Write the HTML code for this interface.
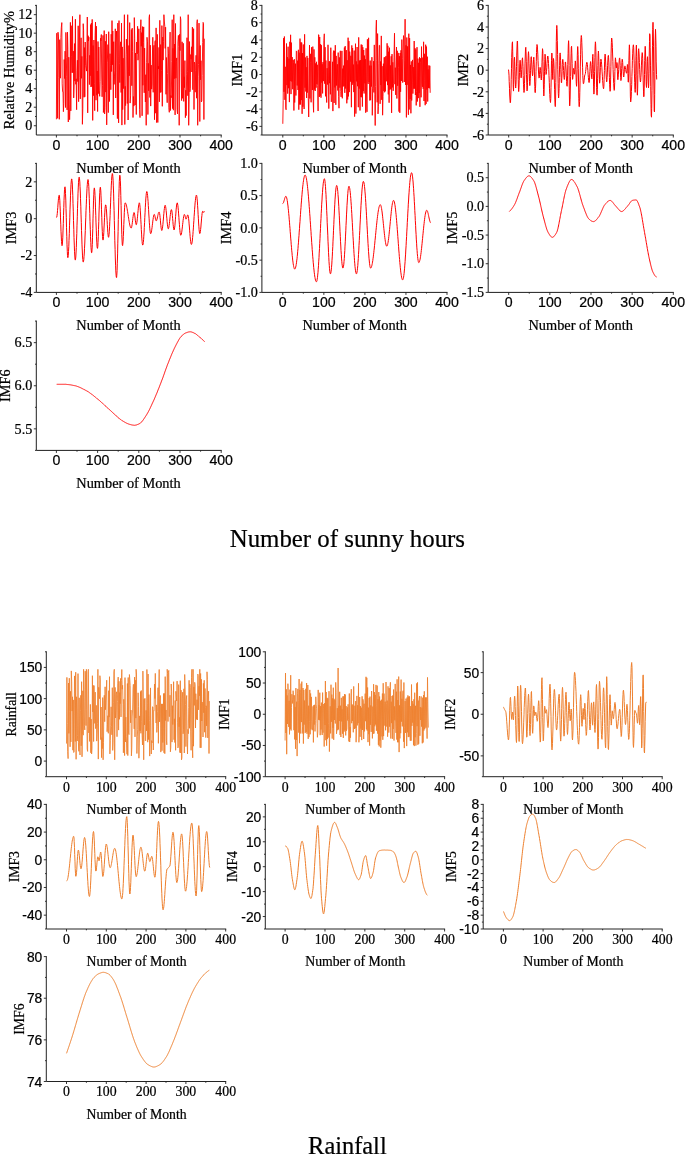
<!DOCTYPE html>
<html><head><meta charset="utf-8"><title>EMD decomposition</title>
<style>html,body{margin:0;padding:0;background:#fff}svg{display:block}text{fill:#000;stroke:#000;stroke-width:0.22px}</style>
</head><body>
<svg width="685" height="1155" viewBox="0 0 685 1155">
<rect width="685" height="1155" fill="#fff"/>
<polyline points="56.4,119.3 56.8,33.2 57.2,59.1 57.6,118.3 58.0,32.2 58.5,36.9 58.9,77.6 59.3,119.3 59.7,39.7 60.1,69.9 60.5,78.2 60.9,37.6 61.3,27.8 61.8,22.6 62.2,83.9 62.6,91.6 63.0,91.6 63.4,111.7 63.8,103.4 64.2,59.5 64.6,78.5 65.1,51.1 65.5,107.5 65.9,32.4 66.3,57.5 66.7,76.2 67.1,109.9 67.5,32.1 67.9,49.5 68.3,122.0 68.8,57.2 69.2,104.1 69.6,119.7 70.0,107.1 70.4,22.4 70.8,110.9 71.2,25.7 71.6,56.2 72.1,72.8 72.5,16.4 72.9,72.5 73.3,51.1 73.7,97.9 74.1,86.1 74.5,43.6 74.9,81.1 75.4,19.2 75.8,84.3 76.2,78.8 76.6,109.7 77.0,70.7 77.4,60.2 77.8,81.6 78.2,25.8 78.6,101.7 79.1,77.8 79.5,35.0 79.9,14.7 80.3,98.9 80.7,58.9 81.1,37.8 81.5,78.3 81.9,56.4 82.4,124.3 82.8,108.5 83.2,23.7 83.6,30.2 84.0,97.3 84.4,47.6 84.8,96.8 85.2,42.0 85.7,65.6 86.1,68.2 86.5,71.1 86.9,57.9 87.3,17.0 87.7,112.9 88.1,35.7 88.5,40.9 88.9,37.2 89.4,84.6 89.8,55.3 90.2,75.8 90.6,24.6 91.0,87.0 91.4,23.0 91.8,86.4 92.2,19.4 92.7,120.4 93.1,45.5 93.5,95.6 93.9,40.0 94.3,83.5 94.7,110.7 95.1,35.3 95.5,22.1 96.0,100.2 96.4,26.2 96.8,95.2 97.2,71.0 97.6,111.5 98.0,41.5 98.4,93.6 98.8,47.0 99.2,90.2 99.7,96.3 100.1,81.5 100.5,38.2 100.9,40.9 101.3,34.5 101.7,77.0 102.1,96.8 102.5,85.3 103.0,35.4 103.4,112.5 103.8,104.8 104.2,30.6 104.6,114.0 105.0,107.7 105.4,41.3 105.8,92.1 106.3,34.0 106.7,124.9 107.1,62.7 107.5,57.0 107.9,44.6 108.3,112.6 108.7,31.7 109.1,57.7 109.5,101.5 110.0,53.7 110.4,65.8 110.8,89.7 111.2,34.2 111.6,71.5 112.0,20.6 112.4,64.8 112.8,31.0 113.3,114.9 113.7,41.7 114.1,84.4 114.5,76.1 114.9,70.7 115.3,28.8 115.7,98.0 116.1,42.2 116.6,31.0 117.0,72.2 117.4,118.6 117.8,23.1 118.2,56.9 118.6,122.9 119.0,20.6 119.4,63.3 119.8,82.6 120.3,46.3 120.7,41.8 121.1,92.5 121.5,23.1 121.9,125.1 122.3,46.9 122.7,109.6 123.1,58.2 123.6,88.6 124.0,48.3 124.4,14.7 124.8,124.5 125.2,86.3 125.6,105.6 126.0,56.2 126.4,39.2 126.9,54.2 127.3,103.5 127.7,14.7 128.1,120.0 128.5,71.1 128.9,45.5 129.3,75.8 129.7,22.6 130.1,103.1 130.6,95.9 131.0,47.8 131.4,29.6 131.8,85.7 132.2,28.2 132.6,51.5 133.0,117.5 133.4,96.5 133.9,106.1 134.3,17.6 134.7,38.3 135.1,105.0 135.5,53.0 135.9,87.0 136.3,114.5 136.7,42.0 137.2,53.9 137.6,26.3 138.0,60.2 138.4,53.4 138.8,28.8 139.2,59.2 139.6,109.6 140.0,117.6 140.4,30.7 140.9,19.7 141.3,46.3 141.7,32.6 142.1,115.8 142.5,26.6 142.9,85.3 143.3,42.4 143.7,26.9 144.2,92.8 144.6,48.1 145.0,82.4 145.4,102.0 145.8,74.7 146.2,125.3 146.6,62.8 147.0,37.3 147.5,41.9 147.9,114.5 148.3,63.3 148.7,90.8 149.1,17.8 149.5,14.7 149.9,97.5 150.3,45.2 150.7,106.1 151.2,65.1 151.6,89.1 152.0,84.0 152.4,57.0 152.8,37.3 153.2,92.3 153.6,47.8 154.0,45.3 154.5,119.7 154.9,42.1 155.3,40.6 155.7,113.2 156.1,27.9 156.5,122.5 156.9,120.3 157.3,34.4 157.8,122.5 158.2,66.2 158.6,68.9 159.0,47.4 159.4,101.8 159.8,20.3 160.2,92.5 160.6,44.6 161.0,92.3 161.5,70.4 161.9,25.6 162.3,106.3 162.7,37.1 163.1,60.1 163.5,41.2 163.9,14.7 164.3,21.0 164.8,26.5 165.2,48.4 165.6,27.2 166.0,94.3 166.4,57.5 166.8,91.3 167.2,102.7 167.6,73.7 168.1,46.8 168.5,53.9 168.9,107.5 169.3,112.3 169.7,50.0 170.1,32.1 170.5,110.5 170.9,95.5 171.3,97.7 171.8,61.4 172.2,19.7 172.6,108.6 173.0,48.4 173.4,110.2 173.8,14.7 174.2,78.7 174.6,44.0 175.1,114.9 175.5,23.5 175.9,78.2 176.3,61.2 176.7,57.9 177.1,109.3 177.5,113.9 177.9,41.9 178.4,35.4 178.8,46.4 179.2,125.3 179.6,34.3 180.0,50.6 180.4,16.7 180.8,19.8 181.2,72.9 181.6,100.6 182.1,41.8 182.5,98.3 182.9,95.9 183.3,43.3 183.7,101.4 184.1,76.8 184.5,87.6 184.9,60.6 185.4,117.7 185.8,90.2 186.2,115.6 186.6,74.1 187.0,37.7 187.4,71.7 187.8,95.7 188.2,14.7 188.7,125.3 189.1,99.2 189.5,41.6 189.9,91.8 190.3,88.7 190.7,54.6 191.1,59.2 191.5,46.8 191.9,72.0 192.4,27.1 192.8,89.7 193.2,49.7 193.6,28.7 194.0,109.5 194.4,62.1 194.8,64.2 195.2,92.2 195.7,70.3 196.1,55.3 196.5,98.2 196.9,23.3 197.3,19.7 197.7,125.3 198.1,76.3 198.5,64.3 199.0,23.1 199.4,45.1 199.8,121.5 200.2,45.4 200.6,79.8 201.0,60.7 201.4,101.9 201.8,100.8 202.2,75.3 202.7,42.6 203.1,22.4 203.5,23.5 203.9,119.5 204.3,38.7" fill="none" stroke="#ff0000" stroke-width="0.9" stroke-linejoin="round"/>
<path d="M36.30 4.90V135.00H221.70" fill="none" stroke="#1e1e1e" stroke-width="1.0"/>
<path d="M36.30 125.74h-2.5M36.30 107.23h-2.5M36.30 88.71h-2.5M36.30 70.20h-2.5M36.30 51.69h-2.5M36.30 33.17h-2.5M36.30 14.66h-2.5M36.30 116.49h-1.3M36.30 97.97h-1.3M36.30 79.46h-1.3M36.30 60.94h-1.3M36.30 42.43h-1.3M36.30 23.91h-1.3M36.30 5.40h-1.3M56.40 135.00v2.5M97.60 135.00v2.5M138.80 135.00v2.5M180.00 135.00v2.5M221.20 135.00v2.5M77.00 135.00v1.3M118.20 135.00v1.3M159.40 135.00v1.3M200.60 135.00v1.3" fill="none" stroke="#1e1e1e" stroke-width="0.9"/>
<text x="32.30" y="130.44" text-anchor="end" font-family="'Liberation Serif','Times New Roman',serif" font-size="14.15">0</text>
<text x="32.30" y="111.93" text-anchor="end" font-family="'Liberation Serif','Times New Roman',serif" font-size="14.15">2</text>
<text x="32.30" y="93.41" text-anchor="end" font-family="'Liberation Serif','Times New Roman',serif" font-size="14.15">4</text>
<text x="32.30" y="74.90" text-anchor="end" font-family="'Liberation Serif','Times New Roman',serif" font-size="14.15">6</text>
<text x="32.30" y="56.39" text-anchor="end" font-family="'Liberation Serif','Times New Roman',serif" font-size="14.15">8</text>
<text x="32.30" y="37.87" text-anchor="end" font-family="'Liberation Serif','Times New Roman',serif" font-size="14.15">10</text>
<text x="32.30" y="19.36" text-anchor="end" font-family="'Liberation Serif','Times New Roman',serif" font-size="14.15">12</text>
<text x="56.40" y="149.90" text-anchor="middle" font-family="'Liberation Sans',Arial,sans-serif" font-size="14.15">0</text>
<text x="97.60" y="149.90" text-anchor="middle" font-family="'Liberation Sans',Arial,sans-serif" font-size="14.15">100</text>
<text x="138.80" y="149.90" text-anchor="middle" font-family="'Liberation Sans',Arial,sans-serif" font-size="14.15">200</text>
<text x="180.00" y="149.90" text-anchor="middle" font-family="'Liberation Sans',Arial,sans-serif" font-size="14.15">300</text>
<text x="221.20" y="149.90" text-anchor="middle" font-family="'Liberation Sans',Arial,sans-serif" font-size="14.15">400</text>
<text x="128.50" y="172.50" text-anchor="middle" font-family="'Liberation Serif','Times New Roman',serif" font-size="14.35">Number of Month</text>
<text transform="translate(13.90 70.20) rotate(-90)" text-anchor="middle" font-family="'Liberation Serif','Times New Roman',serif" font-size="14.35">Relative Humidity%</text>
<polyline points="282.8,123.8 283.2,100.4 283.6,38.2 284.0,91.8 284.4,36.5 284.9,99.8 285.3,66.8 285.7,107.9 286.1,109.8 286.5,43.5 286.9,85.1 287.3,57.1 287.7,93.6 288.1,46.7 288.5,88.2 289.0,58.7 289.4,102.1 289.8,41.8 290.2,81.1 290.6,34.8 291.0,94.1 291.4,42.6 291.8,81.5 292.2,57.1 292.7,89.2 293.1,60.0 293.5,62.5 293.9,110.5 294.3,59.2 294.7,102.5 295.1,81.4 295.5,63.7 295.9,95.5 296.3,50.9 296.8,51.6 297.2,85.5 297.6,60.7 298.0,90.0 298.4,49.8 298.8,109.7 299.2,52.7 299.6,104.5 300.0,38.6 300.5,104.5 300.9,42.3 301.3,100.1 301.7,42.6 302.1,113.8 302.5,53.1 302.9,106.7 303.3,44.5 303.7,82.0 304.1,109.0 304.6,34.3 305.0,87.7 305.4,57.5 305.8,91.5 306.2,67.2 306.6,98.0 307.0,55.9 307.4,92.6 307.8,58.0 308.3,98.5 308.7,117.0 309.1,88.0 309.5,45.1 309.9,98.5 310.3,62.5 310.7,53.8 311.1,102.3 311.5,47.3 311.9,62.6 312.4,90.0 312.8,46.6 313.2,101.7 313.6,112.3 314.0,49.4 314.4,89.6 314.8,57.3 315.2,91.0 315.6,63.4 316.1,87.7 316.5,61.8 316.9,84.1 317.3,64.8 317.7,85.4 318.1,111.0 318.5,34.7 318.9,34.9 319.3,97.0 319.7,37.0 320.2,95.8 320.6,44.1 321.0,97.7 321.4,45.2 321.8,82.6 322.2,64.3 322.6,93.4 323.0,62.1 323.4,81.1 323.9,40.3 324.3,33.8 324.7,83.7 325.1,47.2 325.5,96.3 325.9,60.5 326.3,93.1 326.7,102.5 327.1,68.2 327.5,84.5 328.0,44.8 328.4,66.9 328.8,108.6 329.2,61.2 329.6,83.2 330.0,61.5 330.4,94.3 330.8,47.7 331.2,101.9 331.6,101.4 332.1,91.7 332.5,61.8 332.9,111.1 333.3,53.1 333.7,50.6 334.1,103.0 334.5,50.9 334.9,87.4 335.3,45.2 335.8,104.8 336.2,55.9 336.6,85.5 337.0,68.5 337.4,64.3 337.8,90.5 338.2,52.6 338.6,96.7 339.0,108.2 339.4,57.4 339.9,87.7 340.3,50.8 340.7,91.4 341.1,96.9 341.5,90.8 341.9,50.9 342.3,98.3 342.7,68.6 343.1,86.6 343.6,65.6 344.0,85.9 344.4,47.5 344.8,92.8 345.2,46.1 345.6,88.5 346.0,51.9 346.4,50.2 346.8,103.3 347.2,60.2 347.7,99.5 348.1,37.7 348.5,96.4 348.9,41.1 349.3,92.1 349.7,51.6 350.1,58.5 350.5,81.6 350.9,55.8 351.4,107.2 351.8,45.4 352.2,84.8 352.6,48.0 353.0,82.7 353.4,64.6 353.8,92.1 354.2,50.6 354.6,116.6 355.0,81.6 355.5,43.7 355.9,113.6 356.3,61.4 356.7,81.4 357.1,47.0 357.5,86.2 357.9,64.4 358.3,107.2 358.7,37.4 359.2,88.6 359.6,60.6 360.0,110.5 360.4,60.1 360.8,97.1 361.2,44.5 361.6,97.2 362.0,44.9 362.4,106.6 362.8,47.2 363.3,91.1 363.7,50.0 364.1,93.5 364.5,55.6 364.9,83.3 365.3,59.2 365.7,112.7 366.1,48.3 366.5,91.0 367.0,111.8 367.4,39.3 367.8,81.8 368.2,83.9 368.6,37.8 369.0,82.0 369.4,65.6 369.8,100.5 370.2,60.6 370.6,100.1 371.1,65.7 371.5,86.5 371.9,57.2 372.3,115.3 372.7,88.3 373.1,86.1 373.5,61.2 373.9,92.4 374.3,44.9 374.8,94.8 375.2,125.5 375.6,86.8 376.0,29.9 376.4,20.1 376.8,60.5 377.2,102.3 377.6,33.6 378.0,113.9 378.4,106.4 378.9,63.8 379.3,45.3 379.7,45.4 380.1,103.8 380.5,61.5 380.9,85.0 381.3,35.9 381.7,99.8 382.1,66.2 382.6,115.2 383.0,96.5 383.4,63.7 383.8,91.1 384.2,57.4 384.6,92.3 385.0,57.2 385.4,91.3 385.8,56.2 386.2,56.1 386.7,81.3 387.1,43.3 387.5,85.1 387.9,45.8 388.3,94.4 388.7,51.7 389.1,102.7 389.5,47.7 389.9,89.8 390.4,65.4 390.8,88.9 391.2,56.3 391.6,112.9 392.0,54.1 392.4,87.4 392.8,62.3 393.2,90.8 393.6,83.3 394.0,57.8 394.5,33.2 394.9,84.2 395.3,67.7 395.7,94.9 396.1,63.0 396.5,47.0 396.9,98.5 397.3,50.8 397.7,85.8 398.2,52.9 398.6,67.2 399.0,111.6 399.4,56.2 399.8,112.8 400.2,53.0 400.6,91.8 401.0,50.3 401.4,81.0 401.8,39.6 402.3,58.3 402.7,82.6 403.1,52.0 403.5,35.6 403.9,38.1 404.3,82.0 404.7,60.1 405.1,19.2 405.5,84.9 406.0,45.3 406.4,117.4 406.8,37.5 407.2,84.8 407.6,46.4 408.0,88.0 408.4,114.8 408.8,33.7 409.2,109.5 409.6,38.1 410.1,99.0 410.5,64.9 410.9,113.3 411.3,61.4 411.7,100.5 412.1,82.2 412.5,59.9 412.9,93.6 413.3,67.1 413.7,88.7 414.2,41.0 414.6,88.6 415.0,48.2 415.4,95.0 415.8,49.5 416.2,105.4 416.6,91.5 417.0,47.2 417.4,101.5 417.9,58.6 418.3,98.1 418.7,62.8 419.1,93.0 419.5,57.3 419.9,106.8 420.3,58.2 420.7,62.5 421.1,97.3 421.5,46.6 422.0,83.0 422.4,86.8 422.8,57.6 423.2,88.8 423.6,41.8 424.0,101.0 424.4,53.8 424.8,80.4 425.2,105.2 425.7,44.7 426.1,103.9 426.5,46.6 426.9,89.6 427.3,56.7 427.7,101.5 428.1,69.4 428.5,87.9 428.9,65.4 429.3,88.3 429.8,65.8 430.2,92.8" fill="none" stroke="#ff0000" stroke-width="0.9" stroke-linejoin="round"/>
<path d="M261.90 4.90V135.00H447.50" fill="none" stroke="#1e1e1e" stroke-width="1.0"/>
<path d="M261.90 126.36h-2.5M261.90 109.08h-2.5M261.90 91.80h-2.5M261.90 74.52h-2.5M261.90 57.24h-2.5M261.90 39.96h-2.5M261.90 22.68h-2.5M261.90 5.40h-2.5M261.90 135.00h-1.3M261.90 117.72h-1.3M261.90 100.44h-1.3M261.90 83.16h-1.3M261.90 65.88h-1.3M261.90 48.60h-1.3M261.90 31.32h-1.3M261.90 14.04h-1.3M282.80 135.00v2.5M323.85 135.00v2.5M364.90 135.00v2.5M405.95 135.00v2.5M447.00 135.00v2.5M303.32 135.00v1.3M344.38 135.00v1.3M385.43 135.00v1.3M426.48 135.00v1.3" fill="none" stroke="#1e1e1e" stroke-width="0.9"/>
<text x="257.90" y="131.06" text-anchor="end" font-family="'Liberation Serif','Times New Roman',serif" font-size="14.15">-6</text>
<text x="257.90" y="113.78" text-anchor="end" font-family="'Liberation Serif','Times New Roman',serif" font-size="14.15">-4</text>
<text x="257.90" y="96.50" text-anchor="end" font-family="'Liberation Serif','Times New Roman',serif" font-size="14.15">-2</text>
<text x="257.90" y="79.22" text-anchor="end" font-family="'Liberation Serif','Times New Roman',serif" font-size="14.15">0</text>
<text x="257.90" y="61.94" text-anchor="end" font-family="'Liberation Serif','Times New Roman',serif" font-size="14.15">2</text>
<text x="257.90" y="44.66" text-anchor="end" font-family="'Liberation Serif','Times New Roman',serif" font-size="14.15">4</text>
<text x="257.90" y="27.38" text-anchor="end" font-family="'Liberation Serif','Times New Roman',serif" font-size="14.15">6</text>
<text x="257.90" y="10.10" text-anchor="end" font-family="'Liberation Serif','Times New Roman',serif" font-size="14.15">8</text>
<text x="282.80" y="149.90" text-anchor="middle" font-family="'Liberation Sans',Arial,sans-serif" font-size="14.15">0</text>
<text x="323.85" y="149.90" text-anchor="middle" font-family="'Liberation Sans',Arial,sans-serif" font-size="14.15">100</text>
<text x="364.90" y="149.90" text-anchor="middle" font-family="'Liberation Sans',Arial,sans-serif" font-size="14.15">200</text>
<text x="405.95" y="149.90" text-anchor="middle" font-family="'Liberation Sans',Arial,sans-serif" font-size="14.15">300</text>
<text x="447.00" y="149.90" text-anchor="middle" font-family="'Liberation Sans',Arial,sans-serif" font-size="14.15">400</text>
<text x="354.64" y="172.50" text-anchor="middle" font-family="'Liberation Serif','Times New Roman',serif" font-size="14.35">Number of Month</text>
<text transform="translate(242.00 70.20) rotate(-90)" text-anchor="middle" font-family="'Liberation Serif','Times New Roman',serif" font-size="14.35">IMF1</text>
<polyline points="508.5,69.6 508.7,71.1 509.0,75.2 509.2,81.4 509.5,88.4 509.7,95.0 510.0,100.1 510.2,102.8 510.5,102.4 510.7,98.0 511.0,90.1 511.2,79.7 511.5,68.3 511.7,57.5 512.0,48.8 512.2,43.2 512.5,41.8 512.7,51.2 513.0,69.7 513.2,86.2 513.5,91.1 513.7,84.4 514.0,71.6 514.2,60.4 514.5,57.3 514.7,61.6 515.0,70.1 515.2,79.7 515.5,86.5 515.7,88.0 516.0,84.4 516.2,76.8 516.5,66.6 516.7,55.9 517.0,47.0 517.2,41.6 517.5,41.0 517.7,49.0 518.0,63.7 518.2,79.3 518.5,89.9 518.7,91.6 519.0,87.9 519.2,80.9 519.5,72.5 519.7,65.0 520.0,60.4 520.2,60.2 520.5,65.0 520.7,72.2 521.0,77.4 521.2,77.9 521.5,74.9 521.7,69.6 522.0,63.9 522.2,59.4 522.5,57.8 522.7,60.2 523.0,66.7 523.2,75.5 523.5,84.2 523.8,90.5 524.0,92.5 524.3,90.0 524.5,83.4 524.8,74.1 525.0,63.9 525.3,55.0 525.5,49.0 525.8,47.3 526.0,51.7 526.3,61.8 526.5,74.3 526.8,85.2 527.0,90.9 527.3,89.8 527.5,82.8 527.8,72.1 528.0,61.2 528.3,53.6 528.5,51.7 528.8,55.7 529.0,63.8 529.3,73.5 529.5,81.6 529.8,85.6 530.0,84.3 530.3,78.8 530.5,70.8 530.8,62.9 531.0,57.7 531.3,56.7 531.5,59.2 531.8,64.0 532.0,69.4 532.3,73.8 532.5,75.8 532.8,74.4 533.0,70.0 533.3,64.2 533.5,59.3 533.8,57.2 534.0,59.6 534.3,67.1 534.5,77.1 534.8,86.6 535.0,92.3 535.3,92.7 535.5,88.7 535.8,81.1 536.0,71.5 536.3,61.3 536.5,52.5 536.8,46.5 537.0,44.5 537.3,45.8 537.5,49.1 537.8,54.2 538.0,60.3 538.3,66.5 538.5,72.0 538.8,76.1 539.0,78.1 539.3,77.7 539.5,74.3 539.8,70.0 540.0,67.3 540.3,67.6 540.5,70.3 540.8,74.3 541.0,78.0 541.3,80.0 541.5,78.7 541.8,71.9 542.0,62.2 542.3,53.3 542.5,48.7 542.8,51.0 543.0,61.5 543.3,76.2 543.5,89.4 543.8,96.0 544.0,93.8 544.3,84.2 544.5,71.2 544.8,59.7 545.0,54.2 545.3,56.2 545.5,63.0 545.8,70.6 546.0,74.5 546.3,73.9 546.5,71.5 546.8,67.8 547.0,63.6 547.3,59.8 547.5,57.0 547.8,56.0 548.0,56.8 548.3,59.4 548.5,63.7 548.8,69.3 549.0,75.7 549.3,82.4 549.5,88.8 549.8,94.4 550.0,98.8 550.3,101.6 550.5,102.5 550.8,98.3 551.0,87.3 551.3,73.1 551.5,60.3 551.8,53.0 552.0,54.0 552.3,63.8 552.5,75.2 552.8,79.5 553.0,73.2 553.3,62.6 553.5,58.5 553.8,61.5 554.1,68.8 554.3,78.9 554.6,89.7 554.8,99.1 555.1,105.2 555.3,106.6 555.6,99.0 555.8,82.4 556.1,61.4 556.3,41.5 556.6,28.4 556.8,25.4 557.1,30.1 557.3,40.4 557.6,54.4 557.8,69.7 558.1,83.6 558.3,93.6 558.6,98.0 558.8,96.1 559.1,88.5 559.3,77.4 559.6,65.8 559.8,56.8 560.1,52.9 560.3,54.7 560.6,60.8 560.8,69.3 561.1,77.3 561.3,82.4 561.6,82.8 561.8,78.7 562.1,71.6 562.3,64.4 562.6,59.8 562.8,59.3 563.1,61.5 563.3,65.6 563.6,70.5 563.8,75.1 564.1,78.4 564.3,79.5 564.6,77.3 564.8,71.9 565.1,65.8 565.3,62.0 565.6,62.0 565.8,64.9 566.1,70.0 566.3,76.0 566.6,81.5 566.8,85.2 567.1,86.3 567.3,83.0 567.6,75.2 567.8,64.6 568.1,53.7 568.3,45.1 568.6,40.7 568.8,45.0 569.1,65.6 569.3,90.9 569.6,105.9 569.8,105.5 570.1,99.2 570.3,89.0 570.6,76.5 570.8,64.0 571.1,53.7 571.3,47.4 571.6,46.3 571.8,52.3 572.1,63.3 572.3,74.0 572.6,79.4 572.8,78.4 573.1,74.7 573.3,70.5 573.6,68.4 573.8,69.2 574.1,71.8 574.3,74.1 574.6,74.2 574.8,69.9 575.1,64.0 575.3,60.9 575.6,63.0 575.8,69.2 576.1,77.1 576.3,83.7 576.6,86.3 576.8,81.8 577.1,69.7 577.3,55.8 577.6,46.7 577.8,46.5 578.1,54.6 578.3,68.8 578.6,85.0 578.8,98.8 579.1,106.6 579.3,106.7 579.6,101.6 579.8,92.3 580.1,80.2 580.3,66.9 580.6,54.2 580.8,43.9 581.1,37.4 581.3,35.5 581.6,37.6 581.8,42.7 582.1,50.2 582.3,58.9 582.6,67.8 582.8,75.5 583.1,81.1 583.3,83.7 583.6,83.6 583.9,82.3 584.1,80.2 584.4,77.9 584.6,76.0 584.9,74.8 585.1,74.5 585.4,73.5 585.6,71.6 585.9,69.2 586.1,66.6 586.4,64.3 586.6,62.7 586.9,62.2 587.1,62.8 587.4,64.5 587.6,67.3 587.9,70.7 588.1,74.2 588.4,77.6 588.6,80.3 588.9,82.1 589.1,82.6 589.4,81.0 589.6,77.0 589.9,71.6 590.1,66.4 590.4,62.7 590.6,61.6 590.9,63.6 591.1,68.2 591.4,73.6 591.6,77.7 591.9,78.8 592.1,74.0 592.4,64.8 592.6,56.5 592.9,54.3 593.1,60.8 593.4,73.7 593.6,86.9 593.9,94.1 594.1,92.5 594.4,84.1 594.6,71.4 594.9,57.7 595.1,46.9 595.4,41.8 595.6,43.6 595.9,51.3 596.1,63.0 596.4,76.0 596.6,87.3 596.9,94.3 597.1,95.2 597.4,89.3 597.6,78.2 597.9,65.5 598.1,55.4 598.4,51.0 598.6,53.5 598.9,61.3 599.1,71.3 599.4,79.7 599.6,83.2 599.9,81.2 600.1,75.2 600.4,67.7 600.6,61.5 600.9,59.1 601.1,59.6 601.4,61.4 601.6,64.2 601.9,67.8 602.1,71.9 602.4,76.2 602.6,80.3 602.9,83.9 603.1,86.6 603.4,88.3 603.6,88.8 603.9,86.1 604.1,79.3 604.4,70.5 604.6,61.9 604.9,55.9 605.1,54.1 605.4,56.2 605.6,61.0 605.9,67.5 606.1,74.1 606.4,79.3 606.6,81.9 606.9,81.2 607.1,77.7 607.4,72.1 607.6,65.6 607.9,59.9 608.1,56.2 608.4,55.4 608.6,57.8 608.9,62.9 609.1,69.8 609.4,77.4 609.6,84.2 609.9,89.1 610.1,91.3 610.4,88.9 610.6,79.9 610.9,66.8 611.1,53.1 611.4,42.5 611.6,38.0 611.9,38.9 612.1,42.1 612.4,47.3 612.6,54.0 612.9,61.7 613.1,69.6 613.4,77.1 613.7,83.4 613.9,87.9 614.2,90.4 614.4,89.8 614.7,82.7 614.9,71.5 615.2,61.7 615.4,57.8 615.7,59.9 615.9,64.4 616.2,67.9 616.4,67.9 616.7,65.1 616.9,62.5 617.2,63.7 617.4,71.9 617.7,79.3 617.9,79.8 618.2,77.7 618.4,74.1 618.7,69.6 618.9,64.9 619.2,61.0 619.4,58.5 619.7,57.9 619.9,60.3 620.2,65.6 620.4,72.1 620.7,77.7 620.9,80.6 621.2,79.7 621.4,75.0 621.7,68.3 621.9,62.3 622.2,59.2 622.4,59.8 622.7,62.6 622.9,67.0 623.2,71.7 623.4,75.3 623.7,77.0 623.9,76.2 624.2,73.1 624.4,69.2 624.7,66.5 624.9,65.9 625.2,66.5 625.4,67.8 625.7,69.4 625.9,71.0 626.2,72.4 626.4,73.2 626.7,73.1 626.9,70.7 627.2,67.1 627.4,64.5 627.7,65.1 627.9,73.2 628.2,81.8 628.4,82.2 628.7,73.8 628.9,60.7 629.2,49.2 629.4,44.8 629.7,50.5 629.9,65.1 630.2,82.8 630.4,96.9 630.7,101.9 630.9,100.5 631.2,97.0 631.4,91.5 631.7,84.5 631.9,76.5 632.2,68.3 632.4,60.6 632.7,53.8 632.9,48.7 633.2,45.6 633.4,44.8 633.7,47.6 633.9,54.0 634.2,63.1 634.4,73.1 634.7,82.3 634.9,89.2 635.2,92.4 635.4,89.5 635.7,76.9 635.9,60.3 636.2,47.7 636.4,45.1 636.7,56.3 636.9,75.8 637.2,91.8 637.4,95.2 637.7,88.1 637.9,74.7 638.2,60.3 638.4,50.5 638.7,48.7 638.9,51.1 639.2,56.1 639.4,62.6 639.7,69.7 639.9,75.9 640.2,80.3 640.4,82.0 640.7,80.9 640.9,77.4 641.2,72.1 641.4,65.9 641.7,59.9 641.9,55.2 642.2,52.6 642.4,53.0 642.7,58.8 642.9,69.0 643.2,80.9 643.5,91.1 643.7,96.8 644.0,96.3 644.2,88.1 644.5,74.7 644.7,60.4 645.0,49.8 645.2,46.3 645.5,51.0 645.7,61.8 646.0,74.7 646.2,84.5 646.5,87.5 646.7,81.8 647.0,70.3 647.2,59.9 647.5,56.7 647.7,61.6 648.0,71.7 648.2,82.1 648.5,87.9 648.7,85.5 649.0,73.7 649.2,56.9 649.5,41.5 649.7,33.7 650.0,36.1 650.2,47.8 650.5,65.9 650.7,86.3 651.0,104.2 651.2,115.4 651.5,117.2 651.7,108.4 652.0,90.6 652.2,68.0 652.5,45.8 652.7,29.3 653.0,22.3 653.2,27.8 653.5,46.2 653.7,71.6 654.0,95.9 654.2,111.1 654.5,111.9 654.7,94.4 655.0,66.0 655.2,40.2 655.5,29.3 655.7,33.7 656.0,46.2 656.2,61.9 656.5,74.6 656.7,79.5" fill="none" stroke="#ff0000" stroke-width="1.0" stroke-linejoin="round"/>
<path d="M488.20 4.90V135.00H673.80" fill="none" stroke="#1e1e1e" stroke-width="1.0"/>
<path d="M488.20 135.00h-2.5M488.20 113.40h-2.5M488.20 91.80h-2.5M488.20 70.20h-2.5M488.20 48.60h-2.5M488.20 27.00h-2.5M488.20 5.40h-2.5M488.20 124.20h-1.3M488.20 102.60h-1.3M488.20 81.00h-1.3M488.20 59.40h-1.3M488.20 37.80h-1.3M488.20 16.20h-1.3M508.70 135.00v2.5M549.85 135.00v2.5M591.00 135.00v2.5M632.15 135.00v2.5M673.30 135.00v2.5M529.27 135.00v1.3M570.42 135.00v1.3M611.57 135.00v1.3M652.72 135.00v1.3" fill="none" stroke="#1e1e1e" stroke-width="0.9"/>
<text x="484.20" y="139.70" text-anchor="end" font-family="'Liberation Serif','Times New Roman',serif" font-size="14.15">-6</text>
<text x="484.20" y="118.10" text-anchor="end" font-family="'Liberation Serif','Times New Roman',serif" font-size="14.15">-4</text>
<text x="484.20" y="96.50" text-anchor="end" font-family="'Liberation Serif','Times New Roman',serif" font-size="14.15">-2</text>
<text x="484.20" y="74.90" text-anchor="end" font-family="'Liberation Serif','Times New Roman',serif" font-size="14.15">0</text>
<text x="484.20" y="53.30" text-anchor="end" font-family="'Liberation Serif','Times New Roman',serif" font-size="14.15">2</text>
<text x="484.20" y="31.70" text-anchor="end" font-family="'Liberation Serif','Times New Roman',serif" font-size="14.15">4</text>
<text x="484.20" y="10.10" text-anchor="end" font-family="'Liberation Serif','Times New Roman',serif" font-size="14.15">6</text>
<text x="508.70" y="149.90" text-anchor="middle" font-family="'Liberation Sans',Arial,sans-serif" font-size="14.15">0</text>
<text x="549.85" y="149.90" text-anchor="middle" font-family="'Liberation Sans',Arial,sans-serif" font-size="14.15">100</text>
<text x="591.00" y="149.90" text-anchor="middle" font-family="'Liberation Sans',Arial,sans-serif" font-size="14.15">200</text>
<text x="632.15" y="149.90" text-anchor="middle" font-family="'Liberation Sans',Arial,sans-serif" font-size="14.15">300</text>
<text x="673.30" y="149.90" text-anchor="middle" font-family="'Liberation Sans',Arial,sans-serif" font-size="14.15">400</text>
<text x="580.71" y="172.50" text-anchor="middle" font-family="'Liberation Serif','Times New Roman',serif" font-size="14.35">Number of Month</text>
<text transform="translate(467.70 70.20) rotate(-90)" text-anchor="middle" font-family="'Liberation Serif','Times New Roman',serif" font-size="14.35">IMF2</text>
<polyline points="56.5,217.5 56.8,217.0 57.0,215.6 57.3,213.4 57.5,210.5 57.8,207.3 58.0,204.0 58.3,200.9 58.5,198.3 58.8,196.3 59.0,195.3 59.3,195.3 59.5,197.0 59.8,200.4 60.0,205.2 60.3,211.2 60.5,217.9 60.8,224.8 61.0,231.3 61.3,237.0 61.5,241.5 61.8,244.5 62.0,245.7 62.3,244.9 62.5,242.0 62.8,237.2 63.0,230.9 63.3,223.5 63.5,215.5 63.8,207.6 64.0,200.3 64.3,194.2 64.5,189.7 64.8,187.2 65.0,186.8 65.3,188.9 65.5,193.5 65.8,200.1 66.0,208.4 66.3,217.7 66.5,227.3 66.8,236.6 67.0,244.8 67.3,251.3 67.5,255.7 67.8,257.7 68.0,257.3 68.3,255.2 68.5,251.7 68.8,246.7 69.0,240.5 69.3,233.5 69.5,225.8 69.8,217.8 70.0,209.8 70.3,202.1 70.5,195.2 70.8,189.1 71.0,184.3 71.3,180.9 71.5,179.1 71.8,178.9 72.0,180.5 72.3,184.0 72.5,189.1 72.8,195.7 73.0,203.4 73.3,211.8 73.5,220.6 73.8,229.4 74.0,237.7 74.3,245.1 74.5,251.3 74.8,256.0 75.0,259.0 75.3,260.1 75.5,259.4 75.8,257.0 76.0,253.0 76.3,247.6 76.5,240.9 76.8,233.4 77.0,225.2 77.3,216.8 77.5,208.4 77.8,200.4 78.0,193.2 78.3,187.1 78.5,182.3 78.8,178.9 79.0,177.2 79.3,177.3 79.5,178.8 79.8,181.9 80.0,186.4 80.3,192.0 80.5,198.7 80.8,206.2 81.0,214.1 81.3,222.3 81.5,230.3 81.8,238.0 82.0,244.9 82.3,251.0 82.5,255.9 82.8,259.4 83.0,261.5 83.3,262.1 83.5,261.3 83.8,259.6 84.0,256.7 84.3,253.0 84.5,248.3 84.8,243.0 85.0,237.0 85.3,230.6 85.5,224.0 85.8,217.2 86.0,210.6 86.3,204.2 86.5,198.3 86.8,193.0 87.0,188.4 87.3,184.6 87.5,181.9 87.8,180.1 88.0,179.5 88.3,180.2 88.5,182.5 88.8,186.5 89.0,191.9 89.3,198.4 89.5,205.8 89.8,213.6 90.0,221.6 90.3,229.3 90.5,236.4 90.8,242.6 91.0,247.5 91.3,250.9 91.5,252.7 91.8,252.6 92.0,249.9 92.3,244.6 92.5,237.2 92.8,228.4 93.0,218.8 93.3,209.4 93.5,200.9 93.8,194.2 94.0,189.7 94.3,187.9 94.5,188.6 94.8,191.2 95.0,195.4 95.3,201.1 95.5,207.9 95.8,215.3 96.0,222.9 96.3,230.2 96.5,236.8 96.8,242.1 97.0,246.0 97.3,248.2 97.5,248.4 97.8,246.5 98.0,242.5 98.3,236.6 98.5,229.4 98.8,221.4 99.0,213.0 99.3,205.1 99.5,198.0 99.8,192.5 100.0,188.8 100.3,187.2 100.5,187.9 100.8,190.9 101.0,195.8 101.3,202.3 101.5,209.8 101.8,217.7 102.0,225.1 102.3,231.6 102.5,236.5 102.8,239.4 103.0,240.1 103.3,239.0 103.5,236.5 103.8,232.7 104.0,228.0 104.3,222.9 104.5,217.7 104.8,212.9 105.0,208.9 105.3,206.2 105.5,204.9 105.8,205.0 106.1,206.3 106.3,208.7 106.6,212.0 106.8,216.0 107.1,220.4 107.3,224.7 107.6,228.9 107.8,232.4 108.1,235.1 108.3,236.8 108.6,237.3 108.8,236.5 109.1,234.4 109.3,231.2 109.6,226.8 109.8,221.6 110.1,215.7 110.3,209.4 110.6,202.9 110.8,196.5 111.1,190.5 111.3,185.1 111.6,180.5 111.8,176.9 112.1,174.6 112.3,173.5 112.6,173.9 112.8,176.1 113.1,180.2 113.3,185.9 113.6,193.1 113.8,201.5 114.1,210.7 114.3,220.5 114.6,230.5 114.8,240.3 115.1,249.6 115.3,258.0 115.6,265.2 115.8,270.9 116.1,275.0 116.3,277.3 116.6,277.6 116.8,275.3 117.1,270.5 117.3,263.2 117.6,253.9 117.8,243.2 118.1,231.5 118.3,219.6 118.6,208.0 118.8,197.5 119.1,188.5 119.3,181.5 119.6,177.0 119.8,175.2 120.1,176.2 120.3,180.2 120.6,186.9 120.8,195.6 121.1,205.6 121.3,216.0 121.6,226.0 121.8,234.6 122.1,241.0 122.3,244.8 122.6,245.6 122.8,244.2 123.1,241.1 123.3,236.5 123.6,230.8 123.8,224.6 124.1,218.3 124.3,212.5 124.6,207.8 124.8,204.5 125.1,202.9 125.3,202.9 125.6,203.1 125.8,203.6 126.1,204.2 126.3,205.1 126.6,206.1 126.8,207.3 127.1,208.6 127.3,210.1 127.6,211.6 127.8,213.2 128.1,214.8 128.3,216.5 128.6,218.1 128.8,219.7 129.1,221.2 129.3,222.6 129.6,223.9 129.8,225.1 130.1,226.1 130.3,226.9 130.6,227.5 130.8,227.9 131.1,228.1 131.3,228.0 131.6,227.4 131.8,226.2 132.1,224.7 132.3,222.8 132.6,220.7 132.8,218.6 133.1,216.6 133.3,214.9 133.6,213.5 133.8,212.7 134.1,212.5 134.3,212.9 134.6,214.1 134.8,215.8 135.1,218.0 135.3,220.2 135.6,222.2 135.8,223.7 136.1,224.6 136.3,224.7 136.6,224.1 136.8,222.8 137.1,221.0 137.3,218.8 137.6,216.2 137.8,213.4 138.1,210.7 138.3,208.2 138.6,206.0 138.8,204.4 139.1,203.3 139.3,202.8 139.6,203.2 139.8,204.8 140.1,207.4 140.3,210.9 140.6,215.0 140.8,219.7 141.1,224.6 141.3,229.5 141.6,234.1 141.8,238.1 142.1,241.4 142.3,243.7 142.6,245.0 142.8,245.1 143.1,244.3 143.3,242.4 143.6,239.7 143.8,236.2 144.1,232.1 144.3,227.4 144.6,222.4 144.8,217.3 145.1,212.2 145.3,207.3 145.6,202.8 145.8,198.9 146.1,195.8 146.3,193.4 146.6,192.0 146.8,191.5 147.1,192.0 147.3,193.3 147.6,195.4 147.8,198.2 148.1,201.6 148.3,205.5 148.6,209.7 148.8,214.0 149.1,218.2 149.3,222.2 149.6,225.8 149.8,228.8 150.1,231.2 150.3,232.8 150.6,233.6 150.8,233.6 151.1,233.1 151.3,232.1 151.6,230.8 151.8,229.2 152.1,227.3 152.3,225.3 152.6,223.2 152.8,221.1 153.1,219.2 153.3,217.5 153.6,216.1 153.8,215.1 154.1,214.5 154.3,214.4 154.6,214.8 154.8,215.6 155.1,216.8 155.3,218.1 155.6,219.3 155.8,220.3 156.1,220.8 156.3,220.8 156.6,220.5 156.8,219.9 157.1,219.0 157.3,218.0 157.6,216.8 157.8,215.6 158.1,214.4 158.3,213.4 158.6,212.7 158.8,212.2 159.1,212.0 159.3,212.3 159.6,213.5 159.9,215.3 160.1,217.6 160.4,220.2 160.6,223.0 160.9,225.6 161.1,227.8 161.4,229.4 161.6,230.3 161.9,230.5 162.1,229.9 162.4,228.7 162.6,226.9 162.9,224.6 163.1,221.9 163.4,219.0 163.6,216.1 163.9,213.3 164.1,210.7 164.4,208.5 164.6,206.8 164.9,205.7 165.1,205.2 165.4,205.5 165.6,206.5 165.9,208.2 166.1,210.4 166.4,213.0 166.6,215.9 166.9,218.8 167.1,221.7 167.4,224.2 167.6,226.3 167.9,227.8 168.1,228.7 168.4,228.8 168.6,228.3 168.9,227.2 169.1,225.6 169.4,223.6 169.6,221.4 169.9,219.0 170.1,216.6 170.4,214.4 170.6,212.4 170.9,210.9 171.1,210.0 171.4,209.6 171.6,209.9 171.9,211.0 172.1,213.0 172.4,215.5 172.6,218.4 172.9,221.4 173.1,224.3 173.4,226.8 173.6,228.7 173.9,229.8 174.1,230.0 174.4,229.4 174.6,227.9 174.9,225.8 175.1,223.0 175.4,219.8 175.6,216.4 175.9,213.1 176.1,209.9 176.4,207.1 176.6,205.0 176.9,203.5 177.1,202.8 177.4,203.0 177.6,204.0 177.9,205.6 178.1,207.9 178.4,210.7 178.6,213.9 178.9,217.4 179.1,220.9 179.4,224.3 179.6,227.5 179.9,230.3 180.1,232.6 180.4,234.2 180.6,235.1 180.9,235.3 181.1,234.9 181.4,234.1 181.6,232.8 181.9,231.1 182.1,229.1 182.4,226.9 182.6,224.7 182.9,222.4 183.1,220.3 183.4,218.4 183.6,216.7 183.9,215.5 184.1,214.7 184.4,214.4 184.6,214.6 184.9,215.2 185.1,216.2 185.4,217.3 185.6,218.3 185.9,219.0 186.1,219.2 186.4,218.9 186.6,218.2 186.9,217.3 187.1,216.3 187.4,215.4 187.6,215.0 187.9,214.9 188.1,215.5 188.4,216.8 188.6,218.7 188.9,221.1 189.1,223.9 189.4,227.0 189.6,230.2 189.9,233.4 190.1,236.4 190.4,239.1 190.6,241.3 190.9,243.0 191.1,244.1 191.4,244.5 191.6,244.2 191.9,243.4 192.1,242.0 192.4,240.0 192.6,237.6 192.9,234.7 193.1,231.5 193.4,227.9 193.6,224.2 193.9,220.4 194.1,216.6 194.4,212.9 194.6,209.3 194.9,205.9 195.1,202.9 195.4,200.4 195.6,198.2 195.9,196.6 196.1,195.6 196.4,195.1 196.6,195.4 196.9,196.7 197.1,198.9 197.4,201.9 197.6,205.7 197.9,209.9 198.1,214.3 198.4,218.8 198.6,223.0 198.9,226.8 199.1,229.8 199.4,232.1 199.6,233.4 199.9,233.6 200.1,233.0 200.4,231.6 200.6,229.5 200.9,227.0 201.1,224.0 201.4,221.0 201.6,218.1 201.9,215.5 202.1,213.4 202.4,211.9 202.6,211.3 202.9,211.3 203.1,211.7 203.4,212.2 203.6,212.4 203.9,212.3 204.1,211.9 204.4,211.4 204.6,211.2" fill="none" stroke="#ff0000" stroke-width="1.0" stroke-linejoin="round"/>
<path d="M36.30 162.90V292.40H221.70" fill="none" stroke="#1e1e1e" stroke-width="1.0"/>
<path d="M36.30 292.40h-2.5M36.30 255.54h-2.5M36.30 218.69h-2.5M36.30 181.83h-2.5M36.30 273.97h-1.3M36.30 237.11h-1.3M36.30 200.26h-1.3M36.30 163.40h-1.3M56.40 292.40v2.5M97.60 292.40v2.5M138.80 292.40v2.5M180.00 292.40v2.5M221.20 292.40v2.5M77.00 292.40v1.3M118.20 292.40v1.3M159.40 292.40v1.3M200.60 292.40v1.3" fill="none" stroke="#1e1e1e" stroke-width="0.9"/>
<text x="32.30" y="297.10" text-anchor="end" font-family="'Liberation Serif','Times New Roman',serif" font-size="14.15">-4</text>
<text x="32.30" y="260.24" text-anchor="end" font-family="'Liberation Serif','Times New Roman',serif" font-size="14.15">-2</text>
<text x="32.30" y="223.39" text-anchor="end" font-family="'Liberation Serif','Times New Roman',serif" font-size="14.15">0</text>
<text x="32.30" y="186.53" text-anchor="end" font-family="'Liberation Serif','Times New Roman',serif" font-size="14.15">2</text>
<text x="56.40" y="307.30" text-anchor="middle" font-family="'Liberation Sans',Arial,sans-serif" font-size="14.15">0</text>
<text x="97.60" y="307.30" text-anchor="middle" font-family="'Liberation Sans',Arial,sans-serif" font-size="14.15">100</text>
<text x="138.80" y="307.30" text-anchor="middle" font-family="'Liberation Sans',Arial,sans-serif" font-size="14.15">200</text>
<text x="180.00" y="307.30" text-anchor="middle" font-family="'Liberation Sans',Arial,sans-serif" font-size="14.15">300</text>
<text x="221.20" y="307.30" text-anchor="middle" font-family="'Liberation Sans',Arial,sans-serif" font-size="14.15">400</text>
<text x="128.50" y="329.90" text-anchor="middle" font-family="'Liberation Serif','Times New Roman',serif" font-size="14.35">Number of Month</text>
<text transform="translate(15.60 227.90) rotate(-90)" text-anchor="middle" font-family="'Liberation Serif','Times New Roman',serif" font-size="14.35">IMF3</text>
<polyline points="282.7,203.5 283.0,203.4 283.2,203.1 283.5,202.6 283.7,201.9 284.0,201.0 284.2,200.2 284.5,199.3 284.7,198.4 285.0,197.6 285.2,197.0 285.5,196.6 285.7,196.3 286.0,196.3 286.2,196.6 286.5,197.2 286.7,198.0 287.0,199.1 287.2,200.5 287.5,202.1 287.7,204.0 288.0,206.0 288.2,208.3 288.5,210.8 288.7,213.4 289.0,216.2 289.2,219.2 289.5,222.2 289.7,225.3 290.0,228.5 290.2,231.7 290.5,234.9 290.7,238.1 291.0,241.2 291.2,244.3 291.5,247.3 291.7,250.2 292.0,252.9 292.2,255.5 292.5,257.9 292.7,260.1 293.0,262.1 293.2,263.9 293.5,265.4 293.7,266.7 294.0,267.7 294.2,268.4 294.5,268.9 294.7,269.1 295.0,269.0 295.2,268.6 295.5,267.9 295.7,267.0 296.0,265.9 296.2,264.5 296.5,262.8 296.7,260.9 297.0,258.8 297.2,256.5 297.5,254.0 297.7,251.3 298.0,248.4 298.2,245.3 298.5,242.2 298.7,238.9 299.0,235.5 299.2,232.1 299.5,228.6 299.7,225.0 300.0,221.5 300.2,217.9 300.5,214.4 300.7,210.9 301.0,207.5 301.2,204.1 301.5,200.9 301.7,197.8 302.0,194.8 302.2,192.0 302.5,189.3 302.7,186.9 303.0,184.6 303.2,182.6 303.5,180.8 303.7,179.2 304.0,177.9 304.2,176.8 304.5,176.0 304.7,175.4 305.0,175.2 305.2,175.1 305.5,175.4 305.7,175.9 306.0,176.7 306.2,177.7 306.5,178.9 306.7,180.4 307.0,182.1 307.2,184.1 307.5,186.3 307.7,188.6 308.0,191.2 308.2,193.9 308.5,196.8 308.7,199.9 309.0,203.1 309.2,206.4 309.5,209.8 309.7,213.3 310.0,216.9 310.2,220.6 310.5,224.2 310.7,227.9 311.0,231.6 311.2,235.3 311.5,239.0 311.7,242.6 312.0,246.1 312.2,249.6 312.5,252.9 312.7,256.2 313.0,259.3 313.2,262.2 313.5,265.0 313.7,267.6 314.0,270.0 314.2,272.2 314.5,274.3 314.7,276.0 315.0,277.6 315.2,278.9 315.5,280.0 315.7,280.8 316.0,281.4 316.2,281.7 316.5,281.8 316.7,281.4 317.0,280.6 317.2,279.2 317.5,277.4 317.7,275.1 318.0,272.3 318.2,269.2 318.5,265.7 318.7,261.8 319.0,257.6 319.2,253.1 319.5,248.5 319.7,243.6 320.0,238.6 320.2,233.6 320.5,228.5 320.7,223.4 321.0,218.4 321.2,213.5 321.5,208.8 321.7,204.2 322.0,200.0 322.2,196.0 322.5,192.4 322.7,189.1 323.0,186.2 323.2,183.8 323.5,181.8 323.7,180.3 324.0,179.3 324.2,178.8 324.5,178.8 324.7,179.6 325.0,181.2 325.2,183.5 325.5,186.6 325.7,190.4 326.0,194.7 326.2,199.6 326.5,205.0 326.7,210.7 327.0,216.7 327.2,222.8 327.5,229.0 327.8,235.2 328.0,241.2 328.3,246.9 328.5,252.3 328.8,257.3 329.0,261.7 329.3,265.6 329.5,268.7 329.8,271.2 330.0,272.8 330.3,273.7 330.5,273.8 330.8,273.2 331.0,271.9 331.3,269.9 331.5,267.3 331.8,264.1 332.0,260.3 332.3,256.1 332.5,251.5 332.8,246.5 333.0,241.2 333.3,235.8 333.5,230.3 333.8,224.7 334.0,219.3 334.3,214.0 334.5,208.9 334.8,204.2 335.0,199.9 335.3,196.0 335.5,192.7 335.8,190.0 336.0,187.8 336.3,186.4 336.5,185.6 336.8,185.5 337.0,186.1 337.3,187.3 337.5,189.1 337.8,191.6 338.0,194.5 338.3,198.0 338.5,202.0 338.8,206.3 339.0,210.9 339.3,215.8 339.5,220.9 339.8,226.1 340.0,231.3 340.3,236.4 340.5,241.3 340.8,246.0 341.0,250.5 341.3,254.5 341.5,258.1 341.8,261.3 342.0,263.8 342.3,265.8 342.5,267.2 342.8,268.0 343.0,268.1 343.3,267.5 343.5,266.2 343.8,264.2 344.0,261.7 344.3,258.5 344.5,254.8 344.8,250.6 345.0,246.1 345.3,241.2 345.5,236.1 345.8,230.8 346.0,225.5 346.3,220.1 346.5,214.9 346.8,210.0 347.0,205.3 347.3,201.0 347.5,197.1 347.8,193.7 348.0,190.9 348.3,188.7 348.5,187.2 348.8,186.4 349.0,186.2 349.3,186.6 349.5,187.5 349.8,188.8 350.0,190.6 350.3,192.8 350.5,195.4 350.8,198.5 351.0,201.8 351.3,205.5 351.5,209.5 351.8,213.7 352.0,218.0 352.3,222.5 352.5,227.1 352.8,231.7 353.0,236.3 353.3,240.8 353.5,245.2 353.8,249.5 354.0,253.5 354.3,257.3 354.5,260.7 354.8,263.8 355.0,266.6 355.3,268.9 355.5,270.8 355.8,272.3 356.0,273.3 356.3,273.8 356.5,273.8 356.8,273.3 357.0,272.1 357.3,270.4 357.5,268.2 357.8,265.5 358.0,262.2 358.3,258.6 358.5,254.5 358.8,250.1 359.0,245.4 359.3,240.5 359.5,235.5 359.8,230.3 360.0,225.1 360.3,219.9 360.5,214.9 360.8,209.9 361.0,205.3 361.3,200.9 361.5,196.8 361.8,193.1 362.0,189.9 362.3,187.1 362.5,184.9 362.8,183.2 363.0,182.0 363.3,181.4 363.5,181.5 363.8,182.0 364.0,183.0 364.3,184.5 364.5,186.5 364.8,189.0 365.0,191.9 365.3,195.1 365.5,198.7 365.8,202.7 366.0,206.8 366.3,211.2 366.5,215.8 366.8,220.4 367.0,225.2 367.3,229.9 367.5,234.5 367.8,239.0 368.0,243.4 368.3,247.5 368.5,251.4 368.8,255.0 369.0,258.2 369.3,261.0 369.5,263.3 369.8,265.2 370.0,266.7 370.3,267.6 370.5,268.1 370.8,268.1 371.0,267.8 371.3,267.4 371.5,266.7 371.8,265.8 372.0,264.8 372.3,263.5 372.5,262.1 372.8,260.5 373.0,258.8 373.3,256.9 373.5,254.8 373.8,252.7 374.0,250.4 374.3,248.0 374.5,245.6 374.8,243.1 375.0,240.5 375.3,238.0 375.5,235.4 375.8,232.8 376.0,230.3 376.3,227.7 376.5,225.3 376.8,222.9 377.0,220.6 377.3,218.4 377.5,216.4 377.8,214.4 378.0,212.7 378.3,211.0 378.5,209.6 378.8,208.3 379.0,207.2 379.3,206.3 379.5,205.6 379.8,205.1 380.0,204.8 380.3,204.7 380.5,204.9 380.8,205.4 381.1,206.2 381.3,207.3 381.6,208.6 381.8,210.2 382.1,212.0 382.3,214.0 382.6,216.2 382.8,218.5 383.1,220.9 383.3,223.3 383.6,225.8 383.8,228.3 384.1,230.8 384.3,233.2 384.6,235.4 384.8,237.5 385.1,239.5 385.3,241.2 385.6,242.7 385.8,244.0 386.1,245.0 386.3,245.7 386.6,246.1 386.8,246.2 387.1,246.0 387.3,245.5 387.6,244.6 387.8,243.5 388.1,242.2 388.3,240.5 388.6,238.7 388.8,236.6 389.1,234.3 389.3,231.9 389.6,229.4 389.8,226.8 390.1,224.1 390.3,221.5 390.6,218.8 390.8,216.3 391.1,213.8 391.3,211.4 391.6,209.2 391.8,207.2 392.1,205.4 392.3,203.9 392.6,202.6 392.8,201.6 393.1,200.9 393.3,200.5 393.6,200.4 393.8,200.6 394.1,201.1 394.3,201.9 394.6,203.0 394.8,204.3 395.1,205.9 395.3,207.8 395.6,209.9 395.8,212.2 396.1,214.7 396.3,217.4 396.6,220.3 396.8,223.3 397.1,226.5 397.3,229.7 397.6,233.1 397.8,236.5 398.1,239.9 398.3,243.3 398.6,246.7 398.8,250.0 399.1,253.3 399.3,256.4 399.6,259.5 399.8,262.4 400.1,265.1 400.3,267.7 400.6,270.1 400.8,272.2 401.1,274.1 401.3,275.7 401.6,277.1 401.8,278.2 402.1,279.1 402.3,279.6 402.6,279.9 402.8,279.8 403.1,279.3 403.3,278.5 403.6,277.2 403.8,275.5 404.1,273.4 404.3,271.0 404.6,268.2 404.8,265.1 405.1,261.7 405.3,258.0 405.6,254.1 405.8,250.0 406.1,245.6 406.3,241.2 406.6,236.6 406.8,231.9 407.1,227.2 407.3,222.4 407.6,217.8 407.8,213.1 408.1,208.6 408.3,204.2 408.6,200.0 408.8,196.0 409.1,192.2 409.3,188.7 409.6,185.5 409.8,182.6 410.1,180.0 410.3,177.8 410.6,176.0 410.8,174.6 411.1,173.5 411.3,172.9 411.6,172.7 411.8,173.0 412.1,173.8 412.3,175.1 412.6,176.9 412.8,179.2 413.1,182.0 413.3,185.1 413.6,188.7 413.8,192.6 414.1,196.8 414.3,201.3 414.6,205.9 414.8,210.7 415.1,215.5 415.3,220.4 415.6,225.3 415.8,230.0 416.1,234.6 416.3,239.1 416.6,243.2 416.8,247.1 417.1,250.6 417.3,253.7 417.6,256.4 417.8,258.6 418.1,260.4 418.3,261.6 418.6,262.4 418.8,262.6 419.1,262.4 419.3,262.0 419.6,261.3 419.8,260.4 420.1,259.3 420.3,257.9 420.6,256.3 420.8,254.6 421.1,252.6 421.3,250.5 421.6,248.3 421.8,245.9 422.1,243.4 422.3,240.9 422.6,238.4 422.8,235.8 423.1,233.2 423.3,230.7 423.6,228.2 423.8,225.8 424.1,223.5 424.3,221.3 424.6,219.3 424.8,217.4 425.1,215.7 425.3,214.2 425.6,213.0 425.8,212.0 426.1,211.2 426.3,210.6 426.6,210.3 426.8,210.3 427.1,210.5 427.3,210.9 427.6,211.5 427.8,212.4 428.1,213.3 428.3,214.4 428.6,215.6 428.8,216.8 429.1,218.0 429.3,219.1 429.6,220.1 429.8,221.1 430.1,221.8 430.3,222.4 430.6,222.7 430.8,222.8" fill="none" stroke="#ff0000" stroke-width="1.0" stroke-linejoin="round"/>
<path d="M261.90 162.90V292.40H447.50" fill="none" stroke="#1e1e1e" stroke-width="1.0"/>
<path d="M261.90 292.40h-2.5M261.90 260.15h-2.5M261.90 227.90h-2.5M261.90 195.65h-2.5M261.90 163.40h-2.5M261.90 276.27h-1.3M261.90 244.02h-1.3M261.90 211.77h-1.3M261.90 179.53h-1.3M282.80 292.40v2.5M323.85 292.40v2.5M364.90 292.40v2.5M405.95 292.40v2.5M447.00 292.40v2.5M303.32 292.40v1.3M344.38 292.40v1.3M385.43 292.40v1.3M426.48 292.40v1.3" fill="none" stroke="#1e1e1e" stroke-width="0.9"/>
<text x="257.90" y="297.10" text-anchor="end" font-family="'Liberation Serif','Times New Roman',serif" font-size="14.15">-1.0</text>
<text x="257.90" y="264.85" text-anchor="end" font-family="'Liberation Serif','Times New Roman',serif" font-size="14.15">-0.5</text>
<text x="257.90" y="232.60" text-anchor="end" font-family="'Liberation Serif','Times New Roman',serif" font-size="14.15">0.0</text>
<text x="257.90" y="200.35" text-anchor="end" font-family="'Liberation Serif','Times New Roman',serif" font-size="14.15">0.5</text>
<text x="257.90" y="168.10" text-anchor="end" font-family="'Liberation Serif','Times New Roman',serif" font-size="14.15">1.0</text>
<text x="282.80" y="307.30" text-anchor="middle" font-family="'Liberation Sans',Arial,sans-serif" font-size="14.15">0</text>
<text x="323.85" y="307.30" text-anchor="middle" font-family="'Liberation Sans',Arial,sans-serif" font-size="14.15">100</text>
<text x="364.90" y="307.30" text-anchor="middle" font-family="'Liberation Sans',Arial,sans-serif" font-size="14.15">200</text>
<text x="405.95" y="307.30" text-anchor="middle" font-family="'Liberation Sans',Arial,sans-serif" font-size="14.15">300</text>
<text x="447.00" y="307.30" text-anchor="middle" font-family="'Liberation Sans',Arial,sans-serif" font-size="14.15">400</text>
<text x="354.64" y="329.90" text-anchor="middle" font-family="'Liberation Serif','Times New Roman',serif" font-size="14.35">Number of Month</text>
<text transform="translate(231.00 227.90) rotate(-90)" text-anchor="middle" font-family="'Liberation Serif','Times New Roman',serif" font-size="14.35">IMF4</text>
<polyline points="509.2,211.5 509.4,211.3 509.7,211.1 509.9,210.9 510.2,210.7 510.4,210.5 510.7,210.2 510.9,209.9 511.2,209.6 511.4,209.3 511.7,209.0 511.9,208.7 512.2,208.3 512.4,208.0 512.7,207.6 512.9,207.2 513.2,206.9 513.4,206.5 513.7,206.1 513.9,205.7 514.2,205.2 514.4,204.8 514.7,204.4 514.9,203.9 515.2,203.4 515.4,202.8 515.7,202.3 515.9,201.7 516.2,201.0 516.4,200.4 516.7,199.7 516.9,199.1 517.2,198.4 517.4,197.7 517.7,197.0 517.9,196.3 518.2,195.6 518.4,194.9 518.7,194.3 518.9,193.6 519.2,193.0 519.4,192.3 519.7,191.7 519.9,191.0 520.2,190.3 520.4,189.6 520.7,188.9 520.9,188.2 521.2,187.5 521.4,186.8 521.7,186.1 521.9,185.4 522.2,184.7 522.4,184.1 522.7,183.4 522.9,182.9 523.2,182.3 523.4,181.8 523.7,181.3 523.9,180.9 524.2,180.5 524.4,180.2 524.7,179.8 524.9,179.5 525.2,179.1 525.4,178.8 525.7,178.4 525.9,178.1 526.2,177.8 526.4,177.5 526.7,177.2 526.9,176.9 527.2,176.7 527.4,176.5 527.7,176.3 527.9,176.1 528.2,176.0 528.4,175.9 528.7,175.9 528.9,175.8 529.2,175.9 529.4,175.9 529.7,176.0 529.9,176.1 530.2,176.3 530.4,176.5 530.7,176.7 530.9,176.9 531.2,177.2 531.4,177.5 531.7,177.8 531.9,178.1 532.2,178.4 532.4,178.7 532.7,179.1 532.9,179.5 533.2,179.8 533.4,180.2 533.7,180.6 533.9,181.0 534.2,181.5 534.4,182.0 534.7,182.6 534.9,183.3 535.2,184.0 535.4,184.8 535.7,185.6 535.9,186.5 536.2,187.4 536.4,188.3 536.7,189.2 536.9,190.2 537.2,191.1 537.4,192.1 537.7,193.1 537.9,194.0 538.2,195.0 538.4,195.9 538.7,196.9 538.9,197.8 539.2,198.8 539.4,199.9 539.7,200.9 539.9,202.0 540.2,203.1 540.4,204.2 540.7,205.4 540.9,206.5 541.2,207.6 541.4,208.8 541.7,209.9 541.9,211.0 542.2,212.1 542.4,213.2 542.7,214.2 542.9,215.2 543.2,216.2 543.4,217.1 543.7,218.0 543.9,219.0 544.2,219.9 544.4,220.9 544.7,221.8 544.9,222.8 545.2,223.7 545.4,224.7 545.7,225.6 545.9,226.4 546.2,227.3 546.4,228.1 546.7,228.9 546.9,229.6 547.2,230.3 547.4,230.9 547.7,231.5 547.9,232.0 548.2,232.5 548.4,232.9 548.7,233.3 548.9,233.8 549.2,234.2 549.4,234.6 549.7,235.0 549.9,235.3 550.2,235.7 550.4,236.0 550.7,236.3 551.0,236.6 551.2,236.8 551.5,237.0 551.7,237.1 552.0,237.2 552.2,237.3 552.5,237.3 552.7,237.2 553.0,237.1 553.2,237.0 553.5,236.8 553.7,236.6 554.0,236.4 554.2,236.1 554.5,235.8 554.7,235.5 555.0,235.1 555.2,234.8 555.5,234.4 555.7,234.0 556.0,233.6 556.2,233.1 556.5,232.7 556.7,232.3 557.0,231.7 557.2,231.0 557.5,230.2 557.7,229.3 558.0,228.3 558.2,227.2 558.5,226.0 558.7,224.8 559.0,223.5 559.2,222.2 559.5,220.9 559.7,219.5 560.0,218.2 560.2,216.8 560.5,215.5 560.7,214.2 561.0,213.0 561.2,211.7 561.5,210.6 561.7,209.4 562.0,208.2 562.2,207.0 562.5,205.8 562.7,204.5 563.0,203.2 563.2,201.9 563.5,200.6 563.7,199.4 564.0,198.1 564.2,196.9 564.5,195.7 564.7,194.6 565.0,193.5 565.2,192.5 565.5,191.5 565.7,190.7 566.0,189.9 566.2,189.1 566.5,188.5 566.7,187.8 567.0,187.2 567.2,186.5 567.5,185.9 567.7,185.3 568.0,184.6 568.2,184.0 568.5,183.5 568.7,182.9 569.0,182.4 569.2,181.9 569.5,181.4 569.7,181.0 570.0,180.6 570.2,180.3 570.5,180.0 570.7,179.8 571.0,179.6 571.2,179.5 571.5,179.5 571.7,179.5 572.0,179.5 572.2,179.6 572.5,179.8 572.7,179.9 573.0,180.1 573.2,180.4 573.5,180.7 573.7,181.0 574.0,181.3 574.2,181.7 574.5,182.0 574.7,182.4 575.0,182.9 575.2,183.3 575.5,183.7 575.7,184.2 576.0,184.6 576.2,185.1 576.5,185.6 576.7,186.0 577.0,186.5 577.2,187.0 577.5,187.5 577.7,188.1 578.0,188.7 578.2,189.4 578.5,190.2 578.7,191.0 579.0,191.8 579.2,192.7 579.5,193.5 579.7,194.4 580.0,195.3 580.2,196.3 580.5,197.2 580.7,198.1 581.0,199.0 581.2,200.0 581.5,200.9 581.7,201.7 582.0,202.6 582.2,203.4 582.5,204.2 582.7,204.9 583.0,205.6 583.2,206.3 583.5,207.0 583.7,207.6 584.0,208.3 584.2,209.0 584.5,209.7 584.7,210.3 585.0,211.0 585.2,211.7 585.5,212.3 585.7,213.0 586.0,213.6 586.2,214.2 586.5,214.8 586.7,215.4 587.0,215.9 587.2,216.4 587.5,216.9 587.7,217.4 588.0,217.8 588.2,218.2 588.5,218.5 588.7,218.8 589.0,219.1 589.2,219.3 589.5,219.5 589.7,219.7 590.0,219.9 590.2,220.1 590.5,220.3 590.7,220.5 591.0,220.7 591.2,220.8 591.5,221.0 591.7,221.1 592.0,221.2 592.2,221.4 592.5,221.4 592.7,221.5 593.0,221.6 593.2,221.6 593.5,221.6 593.7,221.6 594.0,221.5 594.2,221.4 594.5,221.3 594.7,221.2 595.0,221.0 595.3,220.8 595.5,220.6 595.8,220.4 596.0,220.1 596.3,219.9 596.5,219.6 596.8,219.3 597.0,219.0 597.3,218.7 597.5,218.4 597.8,218.1 598.0,217.7 598.3,217.4 598.5,217.1 598.8,216.8 599.0,216.5 599.3,216.1 599.5,215.7 599.8,215.2 600.0,214.7 600.3,214.2 600.5,213.7 600.8,213.1 601.0,212.5 601.3,211.9 601.5,211.3 601.8,210.7 602.0,210.1 602.3,209.5 602.5,208.9 602.8,208.4 603.0,207.8 603.3,207.3 603.5,206.8 603.8,206.3 604.0,205.9 604.3,205.4 604.5,205.1 604.8,204.8 605.0,204.5 605.3,204.2 605.5,203.9 605.8,203.6 606.0,203.3 606.3,203.0 606.5,202.8 606.8,202.5 607.0,202.2 607.3,202.0 607.5,201.7 607.8,201.5 608.0,201.3 608.3,201.1 608.5,200.9 608.8,200.8 609.0,200.7 609.3,200.6 609.5,200.5 609.8,200.4 610.0,200.4 610.3,200.4 610.5,200.5 610.8,200.6 611.0,200.7 611.3,200.9 611.5,201.1 611.8,201.3 612.0,201.5 612.3,201.8 612.5,202.1 612.8,202.4 613.0,202.7 613.3,203.1 613.5,203.4 613.8,203.7 614.0,204.1 614.3,204.4 614.5,204.7 614.8,205.0 615.0,205.3 615.3,205.6 615.5,205.9 615.8,206.1 616.0,206.4 616.3,206.6 616.5,206.9 616.8,207.2 617.0,207.5 617.3,207.8 617.5,208.1 617.8,208.4 618.0,208.7 618.3,209.0 618.5,209.3 618.8,209.6 619.0,209.9 619.3,210.1 619.5,210.4 619.8,210.6 620.0,210.8 620.3,211.0 620.5,211.2 620.8,211.3 621.0,211.4 621.3,211.5 621.5,211.5 621.8,211.5 622.0,211.4 622.3,211.4 622.5,211.3 622.8,211.1 623.0,211.0 623.3,210.8 623.5,210.6 623.8,210.4 624.0,210.2 624.3,209.9 624.5,209.6 624.8,209.3 625.0,209.1 625.3,208.8 625.5,208.5 625.8,208.1 626.0,207.8 626.3,207.5 626.5,207.2 626.8,206.9 627.0,206.6 627.3,206.4 627.5,206.1 627.8,205.8 628.0,205.5 628.3,205.2 628.5,204.9 628.8,204.6 629.0,204.2 629.3,203.8 629.5,203.5 629.8,203.1 630.0,202.7 630.3,202.4 630.5,202.1 630.8,201.7 631.0,201.5 631.3,201.2 631.5,200.9 631.8,200.7 632.0,200.6 632.3,200.5 632.5,200.4 632.8,200.3 633.0,200.3 633.3,200.2 633.5,200.2 633.8,200.1 634.0,200.1 634.3,200.1 634.5,200.0 634.8,200.0 635.0,200.0 635.3,200.0 635.5,199.9 635.8,199.9 636.0,199.9 636.3,200.0 636.5,200.1 636.8,200.3 637.0,200.6 637.3,201.0 637.5,201.5 637.8,202.0 638.0,202.6 638.3,203.2 638.5,203.9 638.8,204.6 639.0,205.3 639.3,206.0 639.6,206.7 639.8,207.4 640.1,208.2 640.3,209.2 640.6,210.2 640.8,211.3 641.1,212.5 641.3,213.8 641.6,215.1 641.8,216.5 642.1,217.9 642.3,219.4 642.6,220.9 642.8,222.4 643.1,223.9 643.3,225.4 643.6,226.9 643.8,228.4 644.1,229.8 644.3,231.2 644.6,232.6 644.8,234.0 645.1,235.4 645.3,236.8 645.6,238.2 645.8,239.7 646.1,241.2 646.3,242.6 646.6,244.1 646.8,245.6 647.1,247.0 647.3,248.5 647.6,249.9 647.8,251.3 648.1,252.6 648.3,254.0 648.6,255.2 648.8,256.5 649.1,257.7 649.3,258.8 649.6,259.9 649.8,261.0 650.1,262.1 650.3,263.2 650.6,264.3 650.8,265.3 651.1,266.3 651.3,267.3 651.6,268.2 651.8,269.1 652.1,269.9 652.3,270.6 652.6,271.3 652.8,271.9 653.1,272.4 653.3,272.9 653.6,273.4 653.8,273.8 654.1,274.3 654.3,274.7 654.6,275.1 654.8,275.5 655.1,275.8 655.3,276.1 655.6,276.4 655.8,276.6 656.1,276.8 656.3,276.9 656.6,277.0" fill="none" stroke="#ff0000" stroke-width="1.0" stroke-linejoin="round"/>
<path d="M488.20 162.90V292.40H673.80" fill="none" stroke="#1e1e1e" stroke-width="1.0"/>
<path d="M488.20 292.40h-2.5M488.20 263.73h-2.5M488.20 235.07h-2.5M488.20 206.40h-2.5M488.20 177.73h-2.5M488.20 278.07h-1.3M488.20 249.40h-1.3M488.20 220.73h-1.3M488.20 192.07h-1.3M488.20 163.40h-1.3M508.70 292.40v2.5M549.85 292.40v2.5M591.00 292.40v2.5M632.15 292.40v2.5M673.30 292.40v2.5M529.27 292.40v1.3M570.42 292.40v1.3M611.57 292.40v1.3M652.72 292.40v1.3" fill="none" stroke="#1e1e1e" stroke-width="0.9"/>
<text x="484.20" y="297.10" text-anchor="end" font-family="'Liberation Serif','Times New Roman',serif" font-size="14.15">-1.5</text>
<text x="484.20" y="268.43" text-anchor="end" font-family="'Liberation Serif','Times New Roman',serif" font-size="14.15">-1.0</text>
<text x="484.20" y="239.77" text-anchor="end" font-family="'Liberation Serif','Times New Roman',serif" font-size="14.15">-0.5</text>
<text x="484.20" y="211.10" text-anchor="end" font-family="'Liberation Serif','Times New Roman',serif" font-size="14.15">0.0</text>
<text x="484.20" y="182.43" text-anchor="end" font-family="'Liberation Serif','Times New Roman',serif" font-size="14.15">0.5</text>
<text x="508.70" y="307.30" text-anchor="middle" font-family="'Liberation Sans',Arial,sans-serif" font-size="14.15">0</text>
<text x="549.85" y="307.30" text-anchor="middle" font-family="'Liberation Sans',Arial,sans-serif" font-size="14.15">100</text>
<text x="591.00" y="307.30" text-anchor="middle" font-family="'Liberation Sans',Arial,sans-serif" font-size="14.15">200</text>
<text x="632.15" y="307.30" text-anchor="middle" font-family="'Liberation Sans',Arial,sans-serif" font-size="14.15">300</text>
<text x="673.30" y="307.30" text-anchor="middle" font-family="'Liberation Sans',Arial,sans-serif" font-size="14.15">400</text>
<text x="580.71" y="329.90" text-anchor="middle" font-family="'Liberation Serif','Times New Roman',serif" font-size="14.35">Number of Month</text>
<text transform="translate(457.00 227.90) rotate(-90)" text-anchor="middle" font-family="'Liberation Serif','Times New Roman',serif" font-size="14.35">IMF5</text>
<polyline points="56.7,384.3 57.0,384.3 57.2,384.3 57.5,384.3 57.7,384.3 58.0,384.3 58.2,384.3 58.5,384.3 58.7,384.3 59.0,384.3 59.2,384.3 59.5,384.3 59.7,384.3 60.0,384.3 60.2,384.3 60.5,384.3 60.7,384.3 61.0,384.3 61.2,384.3 61.5,384.3 61.7,384.3 62.0,384.3 62.3,384.3 62.5,384.3 62.8,384.3 63.0,384.3 63.3,384.3 63.5,384.3 63.8,384.3 64.0,384.3 64.3,384.3 64.5,384.3 64.8,384.3 65.0,384.3 65.3,384.3 65.5,384.3 65.8,384.3 66.0,384.4 66.3,384.4 66.5,384.4 66.8,384.4 67.0,384.4 67.3,384.5 67.5,384.5 67.8,384.5 68.0,384.5 68.3,384.6 68.5,384.6 68.8,384.6 69.0,384.7 69.3,384.7 69.5,384.7 69.8,384.8 70.0,384.8 70.3,384.8 70.5,384.9 70.8,384.9 71.0,385.0 71.3,385.0 71.5,385.0 71.8,385.1 72.0,385.1 72.3,385.2 72.5,385.2 72.8,385.3 73.0,385.3 73.3,385.4 73.5,385.4 73.8,385.5 74.0,385.5 74.3,385.6 74.5,385.6 74.8,385.7 75.0,385.7 75.3,385.8 75.5,385.8 75.8,385.9 76.0,386.0 76.3,386.1 76.5,386.1 76.8,386.2 77.0,386.3 77.3,386.4 77.5,386.5 77.8,386.6 78.0,386.7 78.3,386.8 78.5,386.8 78.8,387.0 79.0,387.1 79.3,387.2 79.5,387.3 79.8,387.4 80.0,387.5 80.3,387.6 80.5,387.7 80.8,387.8 81.0,387.9 81.3,388.1 81.5,388.2 81.8,388.3 82.0,388.4 82.3,388.6 82.5,388.7 82.8,388.8 83.0,388.9 83.3,389.1 83.5,389.2 83.8,389.3 84.0,389.5 84.3,389.6 84.5,389.7 84.8,389.9 85.0,390.0 85.3,390.1 85.5,390.3 85.8,390.4 86.0,390.5 86.3,390.7 86.5,390.8 86.8,390.9 87.0,391.1 87.3,391.2 87.5,391.4 87.8,391.5 88.0,391.7 88.3,391.8 88.5,392.0 88.8,392.2 89.0,392.3 89.3,392.5 89.5,392.7 89.8,392.9 90.0,393.0 90.3,393.2 90.5,393.4 90.8,393.6 91.0,393.8 91.3,394.0 91.5,394.1 91.8,394.3 92.0,394.5 92.3,394.7 92.5,394.9 92.8,395.1 93.0,395.3 93.3,395.5 93.5,395.7 93.8,395.9 94.0,396.1 94.3,396.3 94.5,396.5 94.8,396.7 95.0,396.9 95.3,397.1 95.5,397.3 95.8,397.5 96.0,397.7 96.3,397.9 96.5,398.1 96.8,398.4 97.0,398.6 97.3,398.8 97.5,399.0 97.8,399.2 98.0,399.4 98.3,399.6 98.5,399.8 98.8,400.0 99.0,400.2 99.3,400.4 99.5,400.6 99.8,400.8 100.0,401.1 100.3,401.3 100.5,401.5 100.8,401.7 101.0,401.9 101.3,402.2 101.5,402.4 101.8,402.6 102.0,402.8 102.3,403.1 102.5,403.3 102.8,403.5 103.0,403.7 103.3,404.0 103.5,404.2 103.8,404.4 104.0,404.7 104.3,404.9 104.5,405.1 104.8,405.4 105.0,405.6 105.3,405.8 105.5,406.1 105.8,406.3 106.0,406.5 106.3,406.8 106.5,407.0 106.8,407.2 107.0,407.5 107.3,407.7 107.5,407.9 107.8,408.1 108.0,408.4 108.3,408.6 108.5,408.8 108.8,409.1 109.0,409.3 109.3,409.5 109.5,409.7 109.8,410.0 110.0,410.2 110.3,410.4 110.5,410.6 110.8,410.8 111.0,411.1 111.3,411.3 111.5,411.5 111.8,411.8 112.0,412.0 112.3,412.2 112.6,412.5 112.8,412.7 113.1,412.9 113.3,413.2 113.6,413.4 113.8,413.6 114.1,413.9 114.3,414.1 114.6,414.3 114.8,414.6 115.1,414.8 115.3,415.0 115.6,415.3 115.8,415.5 116.1,415.7 116.3,416.0 116.6,416.2 116.8,416.4 117.1,416.6 117.3,416.9 117.6,417.1 117.8,417.3 118.1,417.5 118.3,417.7 118.6,417.9 118.8,418.2 119.1,418.4 119.3,418.6 119.6,418.8 119.8,419.0 120.1,419.2 120.3,419.3 120.6,419.5 120.8,419.7 121.1,419.9 121.3,420.1 121.6,420.2 121.8,420.4 122.1,420.6 122.3,420.7 122.6,420.9 122.8,421.0 123.1,421.2 123.3,421.3 123.6,421.5 123.8,421.6 124.1,421.8 124.3,421.9 124.6,422.1 124.8,422.2 125.1,422.4 125.3,422.5 125.6,422.6 125.8,422.8 126.1,422.9 126.3,423.0 126.6,423.2 126.8,423.3 127.1,423.4 127.3,423.5 127.6,423.6 127.8,423.7 128.1,423.8 128.3,423.9 128.6,424.0 128.8,424.1 129.1,424.2 129.3,424.3 129.6,424.3 129.8,424.4 130.1,424.5 130.3,424.5 130.6,424.6 130.8,424.7 131.1,424.7 131.3,424.8 131.6,424.9 131.8,424.9 132.1,425.0 132.3,425.0 132.6,425.1 132.8,425.1 133.1,425.2 133.3,425.2 133.6,425.2 133.8,425.2 134.1,425.3 134.3,425.3 134.6,425.3 134.8,425.2 135.1,425.2 135.3,425.2 135.6,425.1 135.8,425.1 136.1,425.0 136.3,425.0 136.6,424.9 136.8,424.8 137.1,424.7 137.3,424.6 137.6,424.5 137.8,424.4 138.1,424.3 138.3,424.2 138.6,424.1 138.8,424.0 139.1,423.8 139.3,423.7 139.6,423.6 139.8,423.5 140.1,423.3 140.3,423.1 140.6,422.9 140.8,422.7 141.1,422.5 141.3,422.2 141.6,422.0 141.8,421.7 142.1,421.4 142.3,421.1 142.6,420.8 142.8,420.4 143.1,420.1 143.3,419.7 143.6,419.4 143.8,419.0 144.1,418.6 144.3,418.3 144.6,417.9 144.8,417.5 145.1,417.1 145.3,416.7 145.6,416.3 145.8,415.9 146.1,415.6 146.3,415.2 146.6,414.8 146.8,414.4 147.1,414.0 147.3,413.5 147.6,413.1 147.8,412.7 148.1,412.2 148.3,411.7 148.6,411.3 148.8,410.8 149.1,410.3 149.3,409.8 149.6,409.3 149.8,408.8 150.1,408.3 150.3,407.7 150.6,407.2 150.8,406.7 151.1,406.1 151.3,405.6 151.6,405.1 151.8,404.5 152.1,404.0 152.3,403.4 152.6,402.9 152.8,402.3 153.1,401.8 153.3,401.2 153.6,400.7 153.8,400.1 154.1,399.6 154.3,399.0 154.6,398.4 154.8,397.8 155.1,397.3 155.3,396.7 155.6,396.1 155.8,395.5 156.1,394.9 156.3,394.3 156.6,393.7 156.8,393.1 157.1,392.5 157.3,391.9 157.6,391.2 157.8,390.6 158.1,390.0 158.3,389.4 158.6,388.7 158.8,388.1 159.1,387.5 159.3,386.8 159.6,386.2 159.8,385.6 160.1,384.9 160.3,384.3 160.6,383.6 160.8,383.0 161.1,382.3 161.3,381.7 161.6,381.0 161.8,380.3 162.1,379.7 162.4,379.0 162.6,378.3 162.9,377.6 163.1,376.9 163.4,376.2 163.6,375.5 163.9,374.8 164.1,374.1 164.4,373.4 164.6,372.7 164.9,371.9 165.1,371.2 165.4,370.5 165.6,369.8 165.9,369.1 166.1,368.5 166.4,367.8 166.6,367.1 166.9,366.4 167.1,365.7 167.4,365.1 167.6,364.4 167.9,363.8 168.1,363.2 168.4,362.5 168.6,361.9 168.9,361.3 169.1,360.6 169.4,360.0 169.6,359.4 169.9,358.8 170.1,358.1 170.4,357.5 170.6,356.9 170.9,356.3 171.1,355.7 171.4,355.1 171.6,354.5 171.9,353.9 172.1,353.3 172.4,352.7 172.6,352.1 172.9,351.6 173.1,351.0 173.4,350.4 173.6,349.9 173.9,349.4 174.1,348.8 174.4,348.3 174.6,347.8 174.9,347.3 175.1,346.8 175.4,346.3 175.6,345.8 175.9,345.3 176.1,344.8 176.4,344.3 176.6,343.8 176.9,343.4 177.1,342.9 177.4,342.4 177.6,341.9 177.9,341.5 178.1,341.0 178.4,340.6 178.6,340.1 178.9,339.7 179.1,339.3 179.4,338.9 179.6,338.5 179.9,338.1 180.1,337.8 180.4,337.4 180.6,337.1 180.9,336.8 181.1,336.5 181.4,336.3 181.6,336.0 181.9,335.8 182.1,335.5 182.4,335.3 182.6,335.1 182.9,334.9 183.1,334.6 183.4,334.4 183.6,334.2 183.9,334.0 184.1,333.8 184.4,333.7 184.6,333.5 184.9,333.3 185.1,333.2 185.4,333.1 185.6,333.0 185.9,332.8 186.1,332.8 186.4,332.7 186.6,332.6 186.9,332.5 187.1,332.4 187.4,332.3 187.6,332.3 187.9,332.2 188.1,332.1 188.4,332.0 188.6,332.0 188.9,331.9 189.1,331.9 189.4,331.9 189.6,331.8 189.9,331.8 190.1,331.8 190.4,331.8 190.6,331.8 190.9,331.9 191.1,331.9 191.4,332.0 191.6,332.0 191.9,332.1 192.1,332.2 192.4,332.3 192.6,332.4 192.9,332.5 193.1,332.6 193.4,332.7 193.6,332.8 193.9,332.9 194.1,333.1 194.4,333.2 194.6,333.3 194.9,333.4 195.1,333.6 195.4,333.7 195.6,333.9 195.9,334.0 196.1,334.2 196.4,334.4 196.6,334.6 196.9,334.8 197.1,335.0 197.4,335.2 197.6,335.4 197.9,335.6 198.1,335.8 198.4,336.1 198.6,336.3 198.9,336.5 199.1,336.7 199.4,336.9 199.6,337.1 199.9,337.3 200.1,337.5 200.4,337.7 200.6,338.0 200.9,338.2 201.1,338.4 201.4,338.6 201.6,338.8 201.9,339.1 202.1,339.3 202.4,339.5 202.6,339.8 202.9,340.0 203.1,340.2 203.4,340.5 203.6,340.7 203.9,340.9 204.1,341.2 204.4,341.4 204.6,341.7" fill="none" stroke="#ff0000" stroke-width="1.0" stroke-linejoin="round"/>
<path d="M36.30 320.60V450.40H221.70" fill="none" stroke="#1e1e1e" stroke-width="1.0"/>
<path d="M36.30 428.85h-2.5M36.30 385.75h-2.5M36.30 342.65h-2.5M36.30 450.40h-1.3M36.30 407.30h-1.3M36.30 364.20h-1.3M36.30 321.10h-1.3M56.40 450.40v2.5M97.60 450.40v2.5M138.80 450.40v2.5M180.00 450.40v2.5M221.20 450.40v2.5M77.00 450.40v1.3M118.20 450.40v1.3M159.40 450.40v1.3M200.60 450.40v1.3" fill="none" stroke="#1e1e1e" stroke-width="0.9"/>
<text x="32.30" y="433.55" text-anchor="end" font-family="'Liberation Serif','Times New Roman',serif" font-size="14.15">5.5</text>
<text x="32.30" y="390.45" text-anchor="end" font-family="'Liberation Serif','Times New Roman',serif" font-size="14.15">6.0</text>
<text x="32.30" y="347.35" text-anchor="end" font-family="'Liberation Serif','Times New Roman',serif" font-size="14.15">6.5</text>
<text x="56.40" y="465.30" text-anchor="middle" font-family="'Liberation Sans',Arial,sans-serif" font-size="14.15">0</text>
<text x="97.60" y="465.30" text-anchor="middle" font-family="'Liberation Sans',Arial,sans-serif" font-size="14.15">100</text>
<text x="138.80" y="465.30" text-anchor="middle" font-family="'Liberation Sans',Arial,sans-serif" font-size="14.15">200</text>
<text x="180.00" y="465.30" text-anchor="middle" font-family="'Liberation Sans',Arial,sans-serif" font-size="14.15">300</text>
<text x="221.20" y="465.30" text-anchor="middle" font-family="'Liberation Sans',Arial,sans-serif" font-size="14.15">400</text>
<text x="128.50" y="487.90" text-anchor="middle" font-family="'Liberation Serif','Times New Roman',serif" font-size="14.35">Number of Month</text>
<text transform="translate(10.00 385.75) rotate(-90)" text-anchor="middle" font-family="'Liberation Serif','Times New Roman',serif" font-size="14.35">IMF6</text>
<polyline points="66.5,743.6 66.9,677.4 67.3,723.6 67.7,751.7 68.1,758.6 68.5,683.0 68.9,733.4 69.3,678.2 69.7,711.7 70.1,746.8 70.5,691.3 70.9,741.9 71.3,670.9 71.7,681.9 72.1,711.1 72.5,696.8 72.9,750.2 73.3,699.9 73.7,752.5 74.1,751.8 74.5,675.9 74.9,693.6 75.3,741.5 75.7,672.2 76.1,759.3 76.5,696.8 76.8,708.9 77.2,741.0 77.6,735.5 78.0,673.6 78.4,742.5 78.8,751.3 79.2,697.8 79.6,743.1 80.0,755.0 80.4,710.4 80.8,695.3 81.2,745.8 81.6,681.7 82.0,756.8 82.4,734.6 82.8,690.8 83.2,735.2 83.6,669.3 84.0,689.4 84.4,725.5 84.8,729.9 85.2,671.2 85.6,681.0 86.0,725.6 86.4,669.3 86.8,709.8 87.2,748.9 87.6,751.4 88.0,671.7 88.4,669.3 88.8,732.9 89.2,717.3 89.6,741.4 90.0,731.4 90.4,704.4 90.8,752.8 91.2,719.2 91.6,754.0 92.0,748.1 92.4,675.7 92.8,711.9 93.2,685.4 93.6,741.5 94.0,685.6 94.4,709.0 94.8,723.4 95.2,692.1 95.6,728.6 96.0,726.5 96.3,705.4 96.7,741.1 97.1,734.8 97.5,723.6 97.9,669.3 98.3,759.1 98.7,687.3 99.1,696.5 99.5,698.7 99.9,675.7 100.3,679.9 100.7,739.6 101.1,707.0 101.5,757.6 101.9,737.6 102.3,748.6 102.7,697.6 103.1,759.8 103.5,742.6 103.9,702.1 104.3,695.3 104.7,721.7 105.1,686.8 105.5,709.7 105.9,700.2 106.3,693.0 106.7,680.2 107.1,731.7 107.5,724.2 107.9,715.7 108.3,733.3 108.7,690.7 109.1,717.1 109.5,676.7 109.9,753.9 110.3,740.5 110.7,725.8 111.1,706.8 111.5,726.5 111.9,734.8 112.3,687.7 112.7,750.4 113.1,742.1 113.5,702.9 113.9,671.9 114.3,669.3 114.7,759.8 115.1,687.4 115.5,718.0 115.9,710.5 116.2,694.4 116.6,691.8 117.0,736.7 117.4,701.6 117.8,683.8 118.2,677.1 118.6,730.1 119.0,681.3 119.4,719.3 119.8,692.5 120.2,703.7 120.6,678.4 121.0,716.9 121.4,680.5 121.8,669.5 122.2,689.2 122.6,685.3 123.0,704.4 123.4,752.8 123.8,699.3 124.2,712.6 124.6,755.6 125.0,677.6 125.4,742.0 125.8,717.1 126.2,736.2 126.6,743.9 127.0,754.2 127.4,683.5 127.8,755.6 128.2,677.5 128.6,733.1 129.0,734.6 129.4,674.5 129.8,679.6 130.2,685.6 130.6,722.8 131.0,710.1 131.4,755.9 131.8,747.9 132.2,717.0 132.6,710.0 133.0,690.0 133.4,684.3 133.8,711.0 134.2,728.9 134.6,677.1 135.0,736.9 135.4,680.2 135.8,718.1 136.1,669.3 136.5,674.0 136.9,753.5 137.3,736.2 137.7,729.3 138.1,692.8 138.5,706.5 138.9,758.2 139.3,741.0 139.7,715.9 140.1,730.9 140.5,691.5 140.9,733.3 141.3,690.5 141.7,721.6 142.1,735.2 142.5,745.0 142.9,671.1 143.3,699.2 143.7,759.8 144.1,699.1 144.5,724.9 144.9,698.3 145.3,740.5 145.7,741.0 146.1,710.3 146.5,730.9 146.9,669.5 147.3,703.3 147.7,742.2 148.1,674.0 148.5,739.6 148.9,694.6 149.3,720.5 149.7,756.1 150.1,727.9 150.5,687.9 150.9,739.9 151.3,754.0 151.7,740.6 152.1,742.9 152.5,706.7 152.9,707.0 153.3,750.0 153.7,710.5 154.1,710.8 154.5,684.0 154.9,698.5 155.3,673.4 155.7,707.1 156.1,723.0 156.4,704.9 156.8,732.4 157.2,726.2 157.6,711.3 158.0,687.7 158.4,743.3 158.8,689.2 159.2,669.5 159.6,721.9 160.0,701.0 160.4,695.5 160.8,752.1 161.2,736.2 161.6,703.9 162.0,750.7 162.4,703.9 162.8,742.5 163.2,728.9 163.6,693.5 164.0,752.8 164.4,693.4 164.8,753.7 165.2,676.6 165.6,720.6 166.0,710.0 166.4,740.1 166.8,744.8 167.2,669.3 167.6,673.5 168.0,721.5 168.4,672.2 168.8,670.4 169.2,716.7 169.6,716.4 170.0,695.2 170.4,751.8 170.8,747.4 171.2,684.0 171.6,691.2 172.0,742.1 172.4,705.7 172.8,724.6 173.2,708.1 173.6,681.7 174.0,739.7 174.4,718.8 174.8,742.5 175.2,700.5 175.6,750.3 175.9,691.3 176.3,697.4 176.7,701.0 177.1,681.1 177.5,722.1 177.9,747.9 178.3,746.8 178.7,684.6 179.1,726.8 179.5,717.4 179.9,752.6 180.3,680.7 180.7,753.0 181.1,690.2 181.5,759.8 181.9,757.9 182.3,698.9 182.7,692.2 183.1,733.8 183.5,729.3 183.9,688.8 184.3,753.0 184.7,674.5 185.1,689.1 185.5,704.7 185.9,746.6 186.3,699.8 186.7,695.5 187.1,739.5 187.5,754.0 187.9,729.4 188.3,733.7 188.7,707.5 189.1,680.3 189.5,728.3 189.9,684.1 190.3,687.4 190.7,731.9 191.1,750.3 191.5,677.6 191.9,669.3 192.3,743.7 192.7,757.8 193.1,669.3 193.5,746.2 193.9,686.9 194.3,705.4 194.7,682.3 195.1,684.9 195.5,728.0 195.8,693.7 196.2,707.8 196.6,719.4 197.0,699.7 197.4,720.0 197.8,674.1 198.2,675.4 198.6,709.9 199.0,686.2 199.4,695.8 199.8,669.3 200.2,747.8 200.6,673.5 201.0,747.8 201.4,679.3 201.8,721.0 202.2,702.1 202.6,703.6 203.0,737.0 203.4,683.4 203.8,712.8 204.2,680.3 204.6,732.2 205.0,688.5 205.4,707.3 205.8,737.6 206.2,705.8 206.6,725.9 207.0,671.8 207.4,679.4 207.8,737.9 208.2,700.2 208.6,691.2 209.0,753.5 209.4,701.1" fill="none" stroke="#ee7f2d" stroke-width="0.85" stroke-linejoin="round"/>
<path d="M46.30 651.30V776.70H226.20" fill="none" stroke="#1e1e1e" stroke-width="0.98"/>
<path d="M46.30 761.09h-2.5M46.30 729.86h-2.5M46.30 698.64h-2.5M46.30 667.41h-2.5M46.30 776.70h-1.3M46.30 745.48h-1.3M46.30 714.25h-1.3M46.30 683.02h-1.3M46.30 651.80h-1.3M66.50 776.70v2.5M106.30 776.70v2.5M146.10 776.70v2.5M185.90 776.70v2.5M225.70 776.70v2.5M86.40 776.70v1.3M126.20 776.70v1.3M166.00 776.70v1.3M205.80 776.70v1.3" fill="none" stroke="#1e1e1e" stroke-width="0.9"/>
<text x="42.30" y="766.09" text-anchor="end" font-family="'Liberation Sans',Arial,sans-serif" font-size="13.8">0</text>
<text x="42.30" y="734.86" text-anchor="end" font-family="'Liberation Sans',Arial,sans-serif" font-size="13.8">50</text>
<text x="42.30" y="703.64" text-anchor="end" font-family="'Liberation Sans',Arial,sans-serif" font-size="13.8">100</text>
<text x="42.30" y="672.41" text-anchor="end" font-family="'Liberation Sans',Arial,sans-serif" font-size="13.8">150</text>
<text x="66.50" y="791.60" text-anchor="middle" font-family="'Liberation Serif','Times New Roman',serif" font-size="13.8">0</text>
<text x="106.30" y="791.60" text-anchor="middle" font-family="'Liberation Serif','Times New Roman',serif" font-size="13.8">100</text>
<text x="146.10" y="791.60" text-anchor="middle" font-family="'Liberation Serif','Times New Roman',serif" font-size="13.8">200</text>
<text x="185.90" y="791.60" text-anchor="middle" font-family="'Liberation Serif','Times New Roman',serif" font-size="13.8">300</text>
<text x="225.70" y="791.60" text-anchor="middle" font-family="'Liberation Serif','Times New Roman',serif" font-size="13.8">400</text>
<text x="136.55" y="813.70" text-anchor="middle" font-family="'Liberation Serif','Times New Roman',serif" font-size="13.75">Number of Month</text>
<text transform="translate(16.00 714.25) rotate(-90)" text-anchor="middle" font-family="'Liberation Serif','Times New Roman',serif" font-size="13.75">Rainfall</text>
<polyline points="285.1,740.5 285.5,673.0 285.9,733.0 286.3,689.3 286.7,754.2 287.1,695.4 287.5,724.0 287.9,683.7 288.3,692.8 288.7,726.9 289.1,700.8 289.5,734.4 289.9,689.6 290.3,729.2 290.7,675.2 291.1,730.5 291.5,707.6 291.9,694.2 292.3,703.5 292.7,699.2 293.1,690.7 293.5,694.3 293.9,730.2 294.3,695.3 294.7,739.4 295.1,706.9 295.5,748.8 295.9,688.1 296.3,740.0 296.7,701.7 297.1,756.1 297.5,693.8 297.9,688.9 298.3,700.4 298.7,732.6 299.1,679.0 299.5,743.2 299.9,689.9 300.3,733.5 300.7,692.3 301.1,683.6 301.4,722.1 301.8,681.6 302.2,733.5 302.6,726.7 303.0,688.0 303.4,743.6 303.8,690.0 304.2,724.6 304.6,700.5 305.0,733.1 305.4,732.7 305.8,688.8 306.2,732.1 306.6,683.0 307.0,733.8 307.4,728.0 307.8,685.0 308.2,738.9 308.6,705.7 309.0,737.1 309.4,721.5 309.8,689.9 310.2,734.3 310.6,693.5 311.0,729.2 311.4,696.9 311.8,721.7 312.2,730.2 312.6,728.0 313.0,706.4 313.4,742.4 313.8,705.2 314.2,724.6 314.6,704.8 315.0,731.4 315.4,720.6 315.8,696.8 316.2,704.7 316.6,708.8 317.0,723.4 317.4,737.3 317.8,732.1 318.2,689.9 318.6,719.8 319.0,705.1 319.4,720.2 319.8,692.7 320.2,735.2 320.6,706.1 321.0,729.6 321.4,702.6 321.8,729.6 322.2,735.0 322.6,692.6 323.0,732.7 323.4,708.9 323.8,704.0 324.2,746.5 324.6,703.1 325.0,725.0 325.4,681.0 325.8,740.2 326.2,692.0 326.6,745.7 327.0,697.8 327.4,739.1 327.8,698.4 328.2,737.6 328.6,723.4 329.0,691.2 329.4,751.6 329.8,728.7 330.2,706.3 330.6,733.4 331.0,684.7 331.4,721.8 331.8,694.6 332.2,738.6 332.6,698.4 333.0,727.9 333.3,687.7 333.7,739.8 334.1,698.8 334.5,720.0 334.9,700.1 335.3,723.5 335.7,682.4 336.1,692.5 336.5,733.8 336.9,729.8 337.3,708.1 337.7,730.2 338.1,668.0 338.5,729.4 338.9,705.8 339.3,721.0 339.7,691.8 340.1,734.9 340.5,705.7 340.9,737.0 341.3,697.8 341.7,721.4 342.1,709.3 342.5,733.7 342.9,696.4 343.3,737.9 343.7,696.4 344.1,731.6 344.5,694.1 344.9,730.2 345.3,694.5 345.7,735.4 346.1,706.0 346.5,730.8 346.9,728.5 347.3,707.3 347.7,720.5 348.1,704.3 348.5,719.6 348.9,741.4 349.3,693.5 349.7,742.0 350.1,727.0 350.5,737.7 350.9,699.4 351.3,689.2 351.7,723.2 352.1,704.3 352.5,720.8 352.9,705.2 353.3,732.3 353.7,686.4 354.1,725.0 354.5,728.9 354.9,705.7 355.3,728.4 355.7,701.1 356.1,742.2 356.5,728.7 356.9,695.9 357.3,725.4 357.7,705.2 358.1,723.1 358.5,683.3 358.9,742.3 359.3,734.7 359.7,697.0 360.1,736.8 360.5,706.1 360.9,728.6 361.3,707.7 361.7,740.1 362.1,696.3 362.5,730.0 362.9,699.2 363.3,700.9 363.7,739.0 364.1,703.7 364.5,731.4 364.9,707.1 365.2,693.6 365.6,721.2 366.0,676.8 366.4,729.3 366.8,677.8 367.2,730.7 367.6,687.5 368.0,742.1 368.4,707.6 368.8,734.2 369.2,697.9 369.6,745.6 370.0,696.6 370.4,724.8 370.8,705.4 371.2,731.9 371.6,691.0 372.0,704.5 372.4,738.4 372.8,706.6 373.2,733.8 373.6,684.2 374.0,733.5 374.4,692.1 374.8,726.3 375.2,694.9 375.6,724.5 376.0,684.9 376.4,730.8 376.8,705.3 377.2,685.6 377.6,733.6 378.0,699.2 378.4,744.8 378.8,692.1 379.2,746.4 379.6,696.5 380.0,740.5 380.4,700.7 380.8,747.7 381.2,730.8 381.6,699.7 382.0,736.4 382.4,693.5 382.8,739.8 383.2,683.2 383.6,736.1 384.0,693.6 384.4,703.9 384.8,725.6 385.2,701.6 385.6,730.3 386.0,682.0 386.4,703.5 386.8,726.6 387.2,700.6 387.6,736.7 388.0,686.3 388.4,705.0 388.8,732.6 389.2,688.1 389.6,726.7 390.0,687.9 390.4,682.3 390.8,738.5 391.2,701.7 391.6,723.1 392.0,696.0 392.4,738.8 392.8,695.4 393.2,729.0 393.6,689.5 394.0,740.5 394.4,706.4 394.8,720.3 395.2,683.9 395.6,721.0 396.0,732.9 396.4,691.7 396.8,739.6 397.1,679.3 397.5,742.2 397.9,700.0 398.3,742.3 398.7,676.6 399.1,752.1 399.5,705.4 399.9,738.4 400.3,691.5 400.7,733.2 401.1,679.6 401.5,721.6 401.9,698.8 402.3,726.4 402.7,693.2 403.1,690.7 403.5,741.7 403.9,682.5 404.3,748.1 404.7,727.6 405.1,701.1 405.5,732.9 405.9,698.7 406.3,700.3 406.7,746.1 407.1,697.5 407.5,732.3 407.9,695.4 408.3,737.1 408.7,696.6 409.1,736.8 409.5,696.4 409.9,731.4 410.3,740.7 410.7,706.1 411.1,740.7 411.5,684.5 411.9,725.9 412.3,701.1 412.7,722.6 413.1,703.8 413.5,745.1 413.9,699.3 414.3,746.1 414.7,692.7 415.1,737.3 415.5,705.8 415.9,745.6 416.3,733.5 416.7,683.4 417.1,726.2 417.5,682.4 417.9,744.8 418.3,700.6 418.7,743.8 419.1,699.0 419.5,696.0 419.9,735.8 420.3,707.1 420.7,720.0 421.1,696.4 421.5,726.6 421.9,707.6 422.3,743.3 422.7,697.7 423.1,742.5 423.5,695.1 423.9,730.6 424.3,691.3 424.7,729.1 425.1,724.9 425.5,697.5 425.9,727.7 426.3,697.4 426.7,720.2 427.1,738.6 427.5,677.4 427.9,707.9 428.3,727.6" fill="none" stroke="#ee7f2d" stroke-width="0.85" stroke-linejoin="round"/>
<path d="M265.30 651.30V776.70H445.10" fill="none" stroke="#1e1e1e" stroke-width="0.98"/>
<path d="M265.30 776.70h-2.5M265.30 745.48h-2.5M265.30 714.25h-2.5M265.30 683.02h-2.5M265.30 651.80h-2.5M265.30 761.09h-1.3M265.30 729.86h-1.3M265.30 698.64h-1.3M265.30 667.41h-1.3M285.10 776.70v2.5M324.98 776.70v2.5M364.85 776.70v2.5M404.73 776.70v2.5M444.60 776.70v2.5M305.04 776.70v1.3M344.91 776.70v1.3M384.79 776.70v1.3M424.66 776.70v1.3" fill="none" stroke="#1e1e1e" stroke-width="0.9"/>
<text x="261.30" y="781.70" text-anchor="end" font-family="'Liberation Sans',Arial,sans-serif" font-size="13.8">-100</text>
<text x="261.30" y="750.48" text-anchor="end" font-family="'Liberation Sans',Arial,sans-serif" font-size="13.8">-50</text>
<text x="261.30" y="719.25" text-anchor="end" font-family="'Liberation Sans',Arial,sans-serif" font-size="13.8">0</text>
<text x="261.30" y="688.02" text-anchor="end" font-family="'Liberation Sans',Arial,sans-serif" font-size="13.8">50</text>
<text x="261.30" y="656.80" text-anchor="end" font-family="'Liberation Sans',Arial,sans-serif" font-size="13.8">100</text>
<text x="285.10" y="791.60" text-anchor="middle" font-family="'Liberation Serif','Times New Roman',serif" font-size="13.8">0</text>
<text x="324.98" y="791.60" text-anchor="middle" font-family="'Liberation Serif','Times New Roman',serif" font-size="13.8">100</text>
<text x="364.85" y="791.60" text-anchor="middle" font-family="'Liberation Serif','Times New Roman',serif" font-size="13.8">200</text>
<text x="404.73" y="791.60" text-anchor="middle" font-family="'Liberation Serif','Times New Roman',serif" font-size="13.8">300</text>
<text x="444.60" y="791.60" text-anchor="middle" font-family="'Liberation Serif','Times New Roman',serif" font-size="13.8">400</text>
<text x="355.28" y="813.70" text-anchor="middle" font-family="'Liberation Serif','Times New Roman',serif" font-size="13.75">Number of Month</text>
<text transform="translate(229.30 714.25) rotate(-90)" text-anchor="middle" font-family="'Liberation Serif','Times New Roman',serif" font-size="13.75">IMF1</text>
<polyline points="503.2,707.1 503.5,707.2 503.7,707.6 504.0,708.1 504.2,708.7 504.5,709.3 504.7,709.9 505.0,710.4 505.2,710.7 505.5,710.8 505.7,711.4 506.0,712.8 506.2,715.0 506.5,717.9 506.7,721.3 507.0,724.9 507.2,728.6 507.5,732.1 507.7,735.1 508.0,737.5 508.2,739.2 508.5,739.9 508.7,739.2 509.0,734.9 509.2,727.9 509.5,719.1 509.7,710.3 510.0,703.0 510.2,698.3 510.5,697.3 510.7,700.4 511.0,706.5 511.2,713.4 511.5,718.3 511.7,719.4 512.0,717.4 512.2,714.1 512.5,712.2 512.7,713.0 513.0,716.3 513.2,719.4 513.5,719.9 513.7,716.2 514.0,709.4 514.2,702.0 514.5,697.0 514.7,696.2 515.0,699.6 515.2,706.5 515.5,715.5 515.7,725.3 516.0,734.0 516.2,740.0 516.5,742.5 516.7,738.0 517.0,724.3 517.2,706.8 517.5,692.1 517.7,686.0 518.0,690.1 518.2,701.9 518.5,717.7 518.7,732.4 519.0,741.2 519.2,741.5 519.5,734.1 519.7,721.0 520.0,705.9 520.2,692.8 520.5,685.4 520.7,685.3 521.0,690.5 521.2,699.8 521.5,711.7 521.7,724.0 522.0,734.6 522.2,741.5 522.5,743.7 522.7,742.6 523.0,739.6 523.2,735.0 523.5,729.0 523.7,722.2 524.0,714.8 524.2,707.6 524.5,700.9 524.7,695.3 525.0,691.1 525.2,688.5 525.5,688.0 525.7,693.3 526.0,704.9 526.2,719.0 526.5,731.0 526.7,737.2 527.0,736.4 527.2,731.3 527.5,723.1 527.7,713.4 528.0,704.2 528.2,697.4 528.5,694.2 528.7,695.8 529.0,702.5 529.2,712.6 529.5,723.3 529.7,731.7 530.0,735.6 530.2,733.2 530.5,724.5 530.7,712.2 531.0,700.3 531.2,692.5 531.5,691.5 531.7,698.4 532.0,710.7 532.2,723.6 532.5,732.2 532.7,733.3 533.0,727.6 533.2,718.3 533.5,709.7 533.7,705.9 534.0,706.9 534.2,709.8 534.5,713.2 534.7,715.5 535.0,715.6 535.2,714.4 535.5,712.8 535.7,712.1 536.0,712.6 536.2,714.1 536.5,716.2 536.7,718.4 537.0,720.3 537.2,721.3 537.5,720.9 537.7,717.6 538.0,712.2 538.2,706.4 538.5,702.1 538.7,700.7 539.0,703.5 539.2,710.5 539.5,720.1 539.7,730.0 540.0,738.0 540.2,742.1 540.5,741.0 540.7,732.8 541.0,719.4 541.2,703.7 541.5,689.6 541.7,680.2 542.0,677.7 542.2,684.6 542.5,699.5 542.7,717.5 543.0,733.0 543.2,740.8 543.5,739.8 543.7,733.3 544.0,723.8 544.2,714.2 544.5,707.7 544.7,706.2 545.0,707.8 545.2,710.5 545.5,712.8 545.7,713.2 546.0,711.8 546.2,710.1 546.5,709.7 546.7,711.4 547.0,714.7 547.2,719.0 547.5,723.1 547.7,726.2 548.0,727.6 548.2,726.3 548.5,722.0 548.7,715.1 549.0,706.8 549.2,698.4 549.5,691.1 549.7,686.1 550.0,684.2 550.2,686.3 550.5,693.2 550.7,703.8 551.0,716.4 551.2,729.1 551.5,740.0 551.7,747.3 552.0,749.9 552.2,748.3 552.5,743.5 552.7,736.1 553.0,726.9 553.2,716.8 553.5,707.1 553.7,698.7 554.0,692.6 554.2,689.5 554.5,689.5 554.7,692.1 555.0,696.8 555.2,703.1 555.5,710.2 555.7,717.2 556.0,723.3 556.2,727.7 556.5,729.9 556.7,729.8 557.0,728.0 557.2,724.7 557.5,720.4 557.7,715.3 558.0,709.9 558.2,704.7 558.5,700.1 558.7,696.7 559.0,694.6 559.2,694.2 559.5,698.7 559.7,708.3 560.0,720.4 560.2,731.8 560.5,739.4 560.7,741.1 561.0,737.6 561.2,730.0 561.5,719.6 561.7,708.3 562.0,698.1 562.2,690.6 562.5,687.4 562.7,689.4 563.0,697.5 563.2,709.5 563.5,722.1 563.7,731.9 564.0,736.2 564.2,735.1 564.5,730.7 564.7,723.7 565.0,715.3 565.2,706.8 565.5,699.4 565.7,694.3 566.0,692.2 566.2,694.6 566.5,702.0 566.7,712.5 567.0,723.3 567.2,731.3 567.5,734.4 567.7,732.4 568.0,726.6 568.2,718.5 568.5,710.3 568.7,704.4 569.0,702.2 569.2,703.9 569.5,708.7 569.7,714.5 570.0,719.1 570.2,720.8 570.5,718.9 570.7,714.6 571.0,710.5 571.2,709.0 571.5,712.4 571.7,720.5 572.0,730.1 572.2,737.6 572.5,740.0 572.7,737.2 573.0,730.1 573.2,719.7 573.5,707.5 573.7,695.1 574.0,684.1 574.2,676.2 574.5,672.4 574.7,672.4 575.0,674.0 575.2,676.8 575.5,680.7 575.7,685.7 576.0,691.4 576.2,697.9 576.5,704.6 576.7,711.6 577.0,718.3 577.2,724.8 577.5,730.6 577.7,735.6 578.0,739.6 578.2,742.4 578.5,744.0 578.7,744.2 579.0,741.4 579.2,735.6 579.5,727.4 579.7,718.1 580.0,709.1 580.2,701.5 580.5,696.5 580.7,694.7 581.0,697.8 581.2,705.8 581.5,715.7 581.7,723.5 582.0,726.3 582.2,724.5 582.5,719.8 582.7,714.2 583.0,709.8 583.2,708.4 583.5,711.6 583.7,717.2 584.0,719.5 584.2,715.7 584.5,708.4 584.7,703.2 585.0,703.7 585.2,708.5 585.5,716.2 585.7,724.7 586.0,731.8 586.2,735.4 586.5,735.0 586.7,731.4 587.0,725.3 587.2,717.6 587.5,709.2 587.7,701.3 588.0,695.1 588.2,691.3 588.5,690.5 588.7,693.9 589.0,701.0 589.2,710.3 589.5,719.6 589.7,726.7 590.0,730.0 590.2,728.9 590.5,724.5 590.7,717.8 591.0,710.8 591.2,705.3 591.5,702.8 591.7,704.7 592.0,711.0 592.2,718.9 592.5,724.6 592.7,725.2 593.0,719.3 593.2,710.1 593.5,702.9 593.7,701.9 594.0,706.3 594.2,714.1 594.5,722.8 594.7,729.7 595.0,732.5 595.2,729.7 595.5,721.1 595.7,709.1 596.0,696.9 596.2,687.9 596.5,684.5 596.7,688.2 597.0,698.6 597.2,713.3 597.5,729.0 597.7,741.9 598.0,749.1 598.2,748.3 598.5,737.5 598.7,719.5 599.0,700.4 599.2,686.1 599.5,681.3 599.7,683.0 600.0,687.3 600.2,694.0 600.5,702.3 600.7,711.3 601.0,720.3 601.2,728.3 601.5,734.5 601.7,738.3 602.0,739.3 602.2,735.4 602.5,726.5 602.7,714.4 603.0,702.2 603.2,692.6 603.5,687.8 603.7,688.5 604.0,693.4 604.2,701.7 604.5,712.2 604.7,723.5 605.0,734.1 605.2,742.5 605.5,747.5 605.7,747.9 606.0,732.2 606.2,704.7 606.5,681.9 606.7,676.7 607.0,682.4 607.2,694.4 607.5,710.1 607.7,726.4 608.0,740.1 608.2,748.3 608.5,749.5 608.7,744.2 609.0,733.8 609.2,720.7 609.5,708.0 609.7,698.6 610.0,694.7 610.2,697.1 610.5,704.4 610.7,713.8 611.0,721.7 611.2,725.1 611.5,723.3 611.7,718.3 612.0,713.1 612.2,710.8 612.5,711.7 612.7,714.1 613.0,716.8 613.2,718.7 613.5,718.7 613.7,716.8 614.0,713.5 614.2,709.6 614.5,705.9 614.7,703.3 615.0,702.4 615.2,703.4 615.5,706.0 615.7,710.0 616.0,714.8 616.2,719.6 616.5,723.9 616.7,727.1 617.0,728.7 617.2,728.7 617.5,727.8 617.7,726.2 618.0,724.0 618.2,721.4 618.5,718.6 618.7,715.8 619.0,713.3 619.2,711.3 619.5,709.9 619.7,709.3 620.0,710.1 620.2,714.3 620.5,720.9 620.7,728.0 621.0,733.7 621.2,736.5 621.5,735.8 621.7,732.0 622.0,725.6 622.2,717.5 622.5,708.9 622.7,700.9 623.0,694.6 623.2,690.9 623.5,690.2 623.7,692.1 624.0,696.0 624.2,701.5 624.5,707.8 624.7,714.0 625.0,719.3 625.2,723.0 625.5,724.5 625.7,723.5 626.0,720.0 626.2,715.0 626.5,709.8 626.7,705.9 627.0,704.3 627.2,705.7 627.5,710.4 627.7,717.4 628.0,725.2 628.2,732.4 628.5,737.5 628.7,739.4 629.0,738.2 629.2,734.3 629.5,728.2 629.7,720.2 630.0,710.9 630.2,700.8 630.5,690.8 630.7,681.5 631.0,673.5 631.2,667.4 631.5,663.6 631.7,662.5 632.0,667.2 632.2,679.5 632.5,696.9 632.7,715.9 633.0,732.8 633.2,744.0 633.5,747.4 633.7,743.8 634.0,735.4 634.2,724.8 634.5,715.6 634.7,710.6 635.0,710.3 635.2,710.8 635.5,711.5 635.7,712.3 636.0,713.0 636.2,713.3 636.5,713.8 636.7,715.9 637.0,718.9 637.2,721.7 637.5,723.2 637.7,722.1 638.0,717.4 638.2,711.2 638.5,706.4 638.7,705.5 639.0,709.8 639.2,717.3 639.5,723.6 639.7,724.7 640.0,718.1 640.2,707.0 640.5,698.0 640.7,696.6 641.0,706.4 641.2,723.7 641.5,740.1 641.7,747.9 642.0,743.6 642.2,728.8 642.5,708.1 642.7,688.3 643.0,675.8 643.2,674.9 643.5,688.3 643.7,711.5 644.0,735.6 644.2,751.1 644.5,753.0 644.7,746.6 645.0,735.2 645.2,721.7 645.5,710.0 645.7,703.1 646.0,702.2 646.2,702.2 646.5,702.2" fill="none" stroke="#ee7f2d" stroke-width="1.0" stroke-linejoin="round"/>
<path d="M483.20 651.30V776.70H662.70" fill="none" stroke="#1e1e1e" stroke-width="0.98"/>
<path d="M483.20 755.88h-2.5M483.20 714.25h-2.5M483.20 672.62h-2.5M483.20 776.70h-1.3M483.20 735.07h-1.3M483.20 693.43h-1.3M483.20 651.80h-1.3M503.40 776.70v2.5M543.10 776.70v2.5M582.80 776.70v2.5M622.50 776.70v2.5M662.20 776.70v2.5M523.25 776.70v1.3M562.95 776.70v1.3M602.65 776.70v1.3M642.35 776.70v1.3" fill="none" stroke="#1e1e1e" stroke-width="0.9"/>
<text x="479.20" y="760.88" text-anchor="end" font-family="'Liberation Sans',Arial,sans-serif" font-size="13.8">-50</text>
<text x="479.20" y="719.25" text-anchor="end" font-family="'Liberation Sans',Arial,sans-serif" font-size="13.8">0</text>
<text x="479.20" y="677.62" text-anchor="end" font-family="'Liberation Sans',Arial,sans-serif" font-size="13.8">50</text>
<text x="503.40" y="791.60" text-anchor="middle" font-family="'Liberation Serif','Times New Roman',serif" font-size="13.8">0</text>
<text x="543.10" y="791.60" text-anchor="middle" font-family="'Liberation Serif','Times New Roman',serif" font-size="13.8">100</text>
<text x="582.80" y="791.60" text-anchor="middle" font-family="'Liberation Serif','Times New Roman',serif" font-size="13.8">200</text>
<text x="622.50" y="791.60" text-anchor="middle" font-family="'Liberation Serif','Times New Roman',serif" font-size="13.8">300</text>
<text x="662.20" y="791.60" text-anchor="middle" font-family="'Liberation Serif','Times New Roman',serif" font-size="13.8">400</text>
<text x="573.27" y="813.70" text-anchor="middle" font-family="'Liberation Serif','Times New Roman',serif" font-size="13.75">Number of Month</text>
<text transform="translate(455.20 714.25) rotate(-90)" text-anchor="middle" font-family="'Liberation Serif','Times New Roman',serif" font-size="13.75">IMF2</text>
<polyline points="66.7,880.9 67.0,880.7 67.2,880.3 67.5,879.6 67.7,878.7 68.0,877.4 68.2,876.0 68.5,874.3 68.7,872.4 69.0,870.4 69.2,868.2 69.5,865.9 69.7,863.5 70.0,861.0 70.2,858.5 70.5,856.0 70.7,853.5 71.0,851.1 71.2,848.8 71.5,846.6 71.7,844.6 72.0,842.7 72.2,841.1 72.5,839.6 72.7,838.5 73.0,837.5 73.2,836.8 73.5,836.4 73.7,836.3 74.0,837.8 74.2,841.7 74.5,847.6 74.7,854.5 75.0,861.8 75.2,868.3 75.5,873.3 75.7,876.1 76.0,876.4 76.2,875.2 76.5,872.7 76.8,869.2 77.0,865.0 77.3,860.7 77.5,856.7 77.8,853.4 78.0,851.1 78.3,850.1 78.5,850.3 78.8,851.3 79.0,853.1 79.3,855.3 79.5,858.0 79.8,860.8 80.0,863.4 80.3,865.7 80.5,867.5 80.8,868.6 81.0,868.8 81.3,868.3 81.5,867.1 81.8,865.2 82.0,862.8 82.3,859.9 82.5,856.7 82.8,853.3 83.0,849.9 83.3,846.7 83.5,843.8 83.8,841.3 84.0,839.4 84.3,838.1 84.5,837.5 84.8,837.7 85.0,838.7 85.3,840.4 85.5,842.8 85.8,845.9 86.0,849.5 86.3,853.6 86.5,858.1 86.8,862.8 87.0,867.6 87.3,872.3 87.5,877.0 87.8,881.4 88.0,885.4 88.3,888.9 88.5,891.8 88.8,894.1 89.0,895.6 89.3,896.4 89.5,896.4 89.8,895.2 90.0,892.9 90.3,889.5 90.5,885.2 90.8,880.1 91.0,874.5 91.3,868.4 91.5,862.2 91.8,856.0 92.0,850.1 92.3,844.8 92.5,840.1 92.8,836.4 93.0,833.6 93.3,832.0 93.5,831.5 93.8,832.8 94.0,836.0 94.3,840.9 94.5,846.8 94.8,853.3 95.0,859.5 95.3,864.9 95.5,868.9 95.8,871.0 96.0,871.1 96.3,870.0 96.5,867.8 96.8,865.1 97.0,862.2 97.3,859.6 97.5,857.7 97.8,856.8 98.0,857.0 98.3,858.0 98.5,859.3 98.8,860.4 99.0,860.9 99.3,860.4 99.5,859.1 99.8,857.3 100.0,855.2 100.3,853.4 100.5,852.3 100.8,852.0 101.0,853.2 101.3,855.7 101.5,859.4 101.8,863.8 102.0,868.1 102.3,872.0 102.5,874.9 102.8,876.4 103.0,876.4 103.3,875.5 103.5,873.7 103.8,871.3 104.0,868.2 104.3,864.7 104.5,861.0 104.8,857.2 105.0,853.6 105.3,850.4 105.5,847.7 105.8,845.6 106.0,844.4 106.3,844.0 106.5,844.3 106.8,845.1 107.0,846.3 107.3,847.9 107.5,849.8 107.8,852.0 108.0,854.3 108.3,856.7 108.5,859.1 108.8,861.3 109.0,863.3 109.3,865.0 109.5,866.3 109.8,867.2 110.0,867.6 110.3,867.6 110.5,867.2 110.8,866.6 111.0,865.8 111.3,864.7 111.5,863.4 111.8,862.0 112.0,860.4 112.3,858.8 112.5,857.1 112.8,855.5 113.0,854.0 113.3,852.5 113.5,851.2 113.8,850.2 114.0,849.3 114.3,848.7 114.5,848.4 114.8,848.4 115.0,848.6 115.3,849.2 115.5,850.0 115.8,851.2 116.0,852.5 116.3,854.2 116.5,856.1 116.8,858.1 117.0,860.4 117.3,862.8 117.5,865.4 117.8,868.0 118.0,870.7 118.3,873.4 118.5,876.2 118.8,878.9 119.0,881.6 119.3,884.1 119.5,886.6 119.8,888.8 120.0,890.9 120.3,892.8 120.5,894.5 120.8,895.9 121.0,897.1 121.3,898.0 121.5,898.6 121.8,898.9 122.0,898.8 122.3,897.7 122.5,895.6 122.8,892.5 123.0,888.4 123.3,883.5 123.5,878.0 123.8,871.9 124.0,865.4 124.3,858.7 124.5,852.0 124.8,845.5 125.0,839.3 125.3,833.5 125.5,828.5 125.8,824.1 126.0,820.7 126.3,818.3 126.5,816.9 126.8,816.6 127.0,818.4 127.3,822.4 127.5,828.6 127.8,836.4 128.0,845.4 128.3,855.0 128.5,864.6 128.8,873.7 129.0,881.6 129.3,887.9 129.5,892.1 129.8,894.0 130.0,893.7 130.3,891.5 130.5,887.6 130.8,882.3 131.0,875.8 131.3,868.7 131.5,861.3 131.8,854.2 132.0,847.6 132.3,842.2 132.5,838.1 132.8,835.7 133.0,835.1 133.3,836.0 133.5,838.1 133.8,841.4 134.0,845.5 134.3,850.3 134.5,855.4 134.8,860.6 135.0,865.5 135.3,869.7 135.5,873.1 135.8,875.4 136.0,876.5 136.3,876.5 136.5,876.0 136.8,875.2 137.0,874.0 137.3,872.5 137.5,870.7 137.8,868.7 138.0,866.5 138.3,864.1 138.5,861.8 138.8,859.4 139.0,857.1 139.3,854.9 139.5,852.9 139.8,851.1 140.0,849.6 140.3,848.4 140.5,847.6 140.8,847.2 141.0,847.2 141.3,847.6 141.5,848.6 141.8,849.9 142.0,851.7 142.3,853.8 142.5,856.1 142.8,858.5 143.0,860.9 143.3,863.3 143.5,865.5 143.8,867.5 144.0,869.1 144.3,870.3 144.5,871.0 144.8,871.2 145.0,870.9 145.3,869.9 145.5,868.4 145.8,866.4 146.0,864.1 146.3,861.7 146.5,859.3 146.8,857.1 147.0,855.3 147.3,854.0 147.5,853.3 147.8,853.2 148.0,853.7 148.3,854.7 148.5,856.1 148.8,857.6 149.0,859.0 149.3,860.3 149.5,861.2 149.8,861.6 150.0,861.5 150.3,860.9 150.5,860.1 150.8,859.0 151.0,858.0 151.3,857.1 151.5,856.5 151.8,856.3 152.0,856.7 152.3,857.7 152.5,859.3 152.8,861.3 153.0,863.7 153.3,866.3 153.5,868.9 153.8,871.4 154.0,873.6 154.3,875.4 154.5,876.6 154.8,877.2 155.0,877.1 155.3,875.7 155.5,873.1 155.8,869.3 156.0,864.6 156.3,859.2 156.5,853.4 156.8,847.3 157.0,841.3 157.3,835.7 157.5,830.8 157.8,826.7 158.0,823.7 158.3,821.9 158.5,821.4 158.8,822.2 159.0,824.3 159.3,827.5 159.5,831.9 159.8,837.3 160.0,843.6 160.3,850.4 160.5,857.8 160.8,865.3 161.0,872.9 161.3,880.2 161.5,887.1 161.8,893.4 162.0,898.9 162.3,903.3 162.5,906.7 162.8,908.9 163.0,909.8 163.3,909.5 163.5,908.6 163.8,906.9 164.0,904.5 164.3,901.6 164.5,898.3 164.8,894.6 165.0,890.8 165.3,886.8 165.5,883.0 165.8,879.4 166.1,876.2 166.3,873.4 166.6,871.2 166.8,869.7 167.1,868.9 167.3,868.8 167.6,868.7 167.8,868.5 168.1,868.1 168.3,867.8 168.6,867.4 168.8,867.0 169.1,866.7 169.3,866.5 169.6,866.4 169.8,866.1 170.1,864.9 170.3,862.9 170.6,860.1 170.8,856.7 171.1,853.0 171.3,849.0 171.6,845.1 171.8,841.4 172.1,838.1 172.3,835.4 172.6,833.5 172.8,832.4 173.1,832.3 173.3,833.1 173.6,835.0 173.8,837.8 174.1,841.4 174.3,845.7 174.6,850.4 174.8,855.5 175.1,860.6 175.3,865.6 175.6,870.2 175.8,874.4 176.1,877.8 176.3,880.3 176.6,882.0 176.8,882.6 177.1,882.3 177.3,881.4 177.6,879.8 177.8,877.7 178.1,875.1 178.3,872.1 178.6,868.6 178.8,864.9 179.1,861.0 179.3,857.1 179.6,853.1 179.8,849.3 180.1,845.8 180.3,842.5 180.6,839.7 180.8,837.4 181.1,835.6 181.3,834.5 181.6,833.9 181.8,834.2 182.1,835.5 182.3,838.0 182.6,841.5 182.8,845.9 183.1,851.0 183.3,856.6 183.6,862.4 183.8,868.2 184.1,873.7 184.3,878.9 184.6,883.3 184.8,886.9 185.1,889.4 185.3,890.9 185.6,891.2 185.8,890.8 186.1,889.9 186.3,888.4 186.6,886.5 186.8,884.1 187.1,881.3 187.3,878.0 187.6,874.5 187.8,870.7 188.1,866.7 188.3,862.5 188.6,858.3 188.8,854.0 189.1,849.8 189.3,845.7 189.6,841.7 189.8,838.0 190.1,834.7 190.3,831.6 190.6,829.0 190.8,826.8 191.1,825.1 191.3,823.9 191.6,823.2 191.8,823.1 192.1,824.0 192.3,826.0 192.6,829.1 192.8,833.2 193.1,838.2 193.3,843.9 193.6,850.1 193.8,856.6 194.1,863.2 194.3,869.7 194.6,875.9 194.8,881.5 195.1,886.4 195.3,890.4 195.6,893.4 195.8,895.3 196.1,896.0 196.3,894.8 196.6,890.7 196.8,883.9 197.1,875.1 197.3,865.0 197.6,854.6 197.8,844.7 198.1,836.2 198.3,829.9 198.6,826.2 198.8,825.6 199.1,827.5 199.3,831.7 199.6,837.9 199.8,845.6 200.1,854.3 200.3,863.2 200.6,871.9 200.8,879.5 201.1,885.7 201.3,889.8 201.6,891.6 201.8,891.5 202.1,890.6 202.3,889.0 202.6,886.8 202.8,883.9 203.1,880.5 203.3,876.7 203.6,872.4 203.8,868.0 204.1,863.3 204.3,858.7 204.6,854.1 204.8,849.6 205.1,845.5 205.3,841.8 205.6,838.5 205.8,835.8 206.1,833.7 206.3,832.3 206.6,831.6 206.8,831.6 207.1,832.8 207.3,835.0 207.6,838.1 207.8,841.9 208.1,846.2 208.3,850.7 208.6,855.2 208.8,859.3 209.1,862.7 209.3,865.4 209.6,867.1 209.8,867.6" fill="none" stroke="#ee7f2d" stroke-width="1.0" stroke-linejoin="round"/>
<path d="M46.30 803.90V929.00H226.20" fill="none" stroke="#1e1e1e" stroke-width="0.98"/>
<path d="M46.30 915.16h-2.5M46.30 887.47h-2.5M46.30 859.78h-2.5M46.30 832.09h-2.5M46.30 804.40h-2.5M46.30 929.00h-1.3M46.30 901.31h-1.3M46.30 873.62h-1.3M46.30 845.93h-1.3M46.30 818.24h-1.3M66.50 929.00v2.5M106.30 929.00v2.5M146.10 929.00v2.5M185.90 929.00v2.5M225.70 929.00v2.5M86.40 929.00v1.3M126.20 929.00v1.3M166.00 929.00v1.3M205.80 929.00v1.3" fill="none" stroke="#1e1e1e" stroke-width="0.9"/>
<text x="42.30" y="920.16" text-anchor="end" font-family="'Liberation Sans',Arial,sans-serif" font-size="13.8">-40</text>
<text x="42.30" y="892.47" text-anchor="end" font-family="'Liberation Sans',Arial,sans-serif" font-size="13.8">-20</text>
<text x="42.30" y="864.78" text-anchor="end" font-family="'Liberation Sans',Arial,sans-serif" font-size="13.8">0</text>
<text x="42.30" y="837.09" text-anchor="end" font-family="'Liberation Sans',Arial,sans-serif" font-size="13.8">20</text>
<text x="42.30" y="809.40" text-anchor="end" font-family="'Liberation Sans',Arial,sans-serif" font-size="13.8">40</text>
<text x="66.50" y="943.90" text-anchor="middle" font-family="'Liberation Serif','Times New Roman',serif" font-size="13.8">0</text>
<text x="106.30" y="943.90" text-anchor="middle" font-family="'Liberation Serif','Times New Roman',serif" font-size="13.8">100</text>
<text x="146.10" y="943.90" text-anchor="middle" font-family="'Liberation Serif','Times New Roman',serif" font-size="13.8">200</text>
<text x="185.90" y="943.90" text-anchor="middle" font-family="'Liberation Serif','Times New Roman',serif" font-size="13.8">300</text>
<text x="225.70" y="943.90" text-anchor="middle" font-family="'Liberation Serif','Times New Roman',serif" font-size="13.8">400</text>
<text x="136.55" y="966.00" text-anchor="middle" font-family="'Liberation Serif','Times New Roman',serif" font-size="13.75">Number of Month</text>
<text transform="translate(18.90 866.70) rotate(-90)" text-anchor="middle" font-family="'Liberation Serif','Times New Roman',serif" font-size="13.75">IMF3</text>
<polyline points="285.2,845.9 285.5,846.0 285.7,846.1 286.0,846.2 286.2,846.4 286.5,846.7 286.7,847.0 287.0,847.3 287.2,847.7 287.5,848.1 287.7,848.5 288.0,849.2 288.2,850.1 288.5,851.2 288.7,852.4 289.0,853.8 289.2,855.3 289.5,856.9 289.7,858.4 290.0,860.0 290.2,861.6 290.5,863.5 290.7,865.6 291.0,867.8 291.2,870.1 291.5,872.3 291.7,874.5 292.0,876.5 292.2,878.3 292.5,879.8 292.7,881.3 293.0,882.7 293.2,884.1 293.5,885.5 293.7,886.8 294.0,887.9 294.2,888.8 294.5,889.4 294.7,889.7 295.0,889.7 295.2,889.3 295.5,888.5 295.7,887.4 296.0,886.1 296.2,884.5 296.5,882.8 296.7,881.1 297.0,879.3 297.2,877.5 297.5,875.6 297.7,873.3 298.0,870.7 298.2,867.9 298.5,865.0 298.7,862.1 299.0,859.4 299.2,856.8 299.5,854.6 299.7,852.8 300.0,851.1 300.2,849.3 300.5,847.6 300.7,846.0 301.0,844.5 301.2,843.3 301.5,842.2 301.7,841.5 302.0,841.2 302.2,841.2 302.5,841.6 302.7,842.4 303.0,843.5 303.2,844.8 303.5,846.3 303.7,847.9 304.0,849.6 304.2,851.4 304.5,853.1 304.7,855.1 305.0,857.6 305.2,860.4 305.5,863.4 305.7,866.6 306.0,869.8 306.2,872.8 306.5,875.7 306.7,878.3 307.0,880.4 307.2,882.4 307.5,884.5 307.7,886.4 308.0,888.3 308.2,890.0 308.5,891.6 308.7,893.0 309.0,894.2 309.2,895.1 309.5,895.8 309.7,896.5 310.0,897.1 310.2,897.7 310.5,898.1 310.7,898.4 311.0,898.5 311.2,898.2 311.5,897.6 311.7,896.7 312.0,895.4 312.2,893.9 312.5,892.3 312.7,890.6 313.0,888.8 313.2,886.3 313.5,883.1 313.7,879.4 314.0,875.3 314.3,870.9 314.5,866.5 314.8,862.1 315.0,858.0 315.3,854.3 315.5,850.9 315.8,847.3 316.0,843.5 316.3,839.6 316.5,835.9 316.8,832.6 317.0,829.7 317.3,827.4 317.5,826.0 317.8,825.5 318.0,826.6 318.3,829.5 318.5,833.7 318.8,838.8 319.0,844.2 319.3,849.7 319.5,854.6 319.8,860.1 320.0,866.4 320.3,872.9 320.5,879.4 320.8,885.5 321.0,890.9 321.3,895.2 321.5,898.3 321.8,901.2 322.0,904.1 322.3,906.7 322.5,909.0 322.8,911.0 323.0,912.5 323.3,913.5 323.5,913.9 323.8,913.5 324.0,912.5 324.3,911.0 324.5,908.9 324.8,906.5 325.0,903.9 325.3,901.2 325.5,898.5 325.8,895.8 326.0,892.9 326.3,889.4 326.5,885.6 326.8,881.6 327.0,877.4 327.3,873.1 327.5,868.8 327.8,864.7 328.0,860.8 328.3,857.2 328.5,854.0 328.8,851.2 329.0,848.4 329.3,845.6 329.5,843.0 329.8,840.5 330.0,838.1 330.3,836.0 330.5,834.1 330.8,832.6 331.0,831.4 331.3,830.4 331.5,829.4 331.8,828.5 332.0,827.6 332.3,826.7 332.5,825.9 332.8,825.2 333.0,824.5 333.3,823.9 333.5,823.4 333.8,823.0 334.0,822.7 334.3,822.5 334.5,822.4 334.8,822.4 335.0,822.5 335.3,822.8 335.5,823.2 335.8,823.7 336.0,824.2 336.3,824.8 336.5,825.4 336.8,826.0 337.0,826.7 337.3,827.3 337.5,827.9 337.8,828.6 338.0,829.3 338.3,830.1 338.5,830.9 338.8,831.8 339.0,832.6 339.3,833.5 339.5,834.3 339.8,835.2 340.0,835.9 340.3,836.6 340.5,837.3 340.8,837.8 341.0,838.3 341.3,838.8 341.5,839.2 341.8,839.6 342.0,840.0 342.3,840.4 342.5,840.8 342.8,841.1 343.0,841.5 343.3,841.9 343.5,842.3 343.8,842.7 344.0,843.1 344.3,843.6 344.5,844.1 344.8,844.6 345.0,845.1 345.3,845.7 345.5,846.2 345.8,846.8 346.0,847.4 346.3,848.0 346.5,848.6 346.8,849.2 347.0,849.8 347.3,850.5 347.5,851.1 347.8,851.8 348.0,852.4 348.3,853.1 348.5,853.8 348.8,854.6 349.0,855.3 349.3,856.0 349.5,856.8 349.8,857.6 350.0,858.4 350.3,859.1 350.5,859.9 350.8,860.7 351.0,861.5 351.3,862.2 351.5,863.0 351.8,863.8 352.0,864.6 352.3,865.4 352.5,866.2 352.8,867.0 353.0,867.8 353.3,868.6 353.5,869.4 353.8,870.2 354.0,871.0 354.3,871.7 354.5,872.3 354.8,873.0 355.0,873.5 355.3,874.1 355.5,874.7 355.8,875.2 356.0,875.8 356.3,876.4 356.5,876.9 356.8,877.4 357.0,877.9 357.3,878.4 357.5,878.8 357.8,879.1 358.0,879.4 358.3,879.5 358.5,879.7 358.8,879.7 359.0,879.5 359.3,879.3 359.5,878.9 359.8,878.4 360.0,877.8 360.3,877.2 360.5,876.5 360.8,875.8 361.0,875.0 361.3,874.2 361.5,872.9 361.8,871.4 362.0,869.7 362.3,867.8 362.5,866.0 362.8,864.2 363.0,862.6 363.3,861.3 363.5,860.3 363.8,859.5 364.0,858.7 364.3,857.9 364.5,857.3 364.8,856.7 365.0,856.2 365.3,855.8 365.5,855.6 365.8,855.7 366.0,856.2 366.3,857.3 366.5,858.7 366.8,860.3 367.0,861.9 367.3,863.5 367.5,864.9 367.8,866.1 368.0,867.4 368.3,868.8 368.5,870.2 368.8,871.6 369.0,873.0 369.3,874.3 369.5,875.5 369.8,876.5 370.0,877.4 370.3,878.0 370.5,878.4 370.8,878.5 371.0,878.3 371.3,878.0 371.5,877.5 371.8,876.9 372.0,876.2 372.3,875.4 372.5,874.6 372.8,873.7 373.0,872.8 373.3,871.8 373.5,870.6 373.8,869.0 374.0,867.3 374.3,865.5 374.5,863.6 374.8,861.9 375.1,860.3 375.3,859.0 375.6,858.0 375.8,857.2 376.1,856.5 376.3,855.8 376.6,855.1 376.8,854.4 377.1,853.8 377.3,853.2 377.6,852.7 377.8,852.2 378.1,851.8 378.3,851.5 378.6,851.2 378.8,851.0 379.1,850.8 379.3,850.7 379.6,850.7 379.8,850.6 380.1,850.5 380.3,850.5 380.6,850.4 380.8,850.4 381.1,850.3 381.3,850.3 381.6,850.2 381.8,850.2 382.1,850.2 382.3,850.1 382.6,850.1 382.8,850.1 383.1,850.1 383.3,850.1 383.6,850.0 383.8,850.0 384.1,850.0 384.3,850.0 384.6,850.0 384.8,850.0 385.1,850.1 385.3,850.1 385.6,850.1 385.8,850.1 386.1,850.1 386.3,850.1 386.6,850.1 386.8,850.1 387.1,850.1 387.3,850.1 387.6,850.1 387.8,850.1 388.1,850.2 388.3,850.2 388.6,850.2 388.8,850.2 389.1,850.2 389.3,850.2 389.6,850.3 389.8,850.3 390.1,850.3 390.3,850.3 390.6,850.4 390.8,850.4 391.1,850.5 391.3,850.6 391.6,850.7 391.8,850.8 392.1,850.9 392.3,851.1 392.6,851.2 392.8,851.4 393.1,851.6 393.3,851.7 393.6,851.9 393.8,852.2 394.1,852.5 394.3,852.8 394.6,853.3 394.8,853.8 395.1,854.3 395.3,854.9 395.6,855.5 395.8,856.2 396.1,856.9 396.3,857.7 396.6,858.7 396.8,859.8 397.1,860.9 397.3,862.2 397.6,863.5 397.8,864.7 398.1,866.0 398.3,867.1 398.6,868.2 398.8,869.3 399.1,870.4 399.3,871.6 399.6,872.7 399.8,873.8 400.1,874.8 400.3,875.7 400.6,876.5 400.8,877.2 401.1,877.8 401.3,878.4 401.6,879.0 401.8,879.6 402.1,880.2 402.3,880.7 402.6,881.2 402.8,881.6 403.1,881.9 403.3,882.2 403.6,882.4 403.8,882.5 404.1,882.6 404.3,882.4 404.6,882.2 404.8,881.9 405.1,881.5 405.3,881.0 405.6,880.5 405.8,879.9 406.1,879.3 406.3,878.6 406.6,878.0 406.8,877.4 407.1,876.7 407.3,875.9 407.6,875.1 407.8,874.1 408.1,873.1 408.3,872.1 408.6,871.0 408.8,869.9 409.1,868.7 409.3,867.6 409.6,866.5 409.8,865.4 410.1,864.4 410.3,863.4 410.6,862.5 410.8,861.5 411.1,860.5 411.3,859.5 411.6,858.5 411.8,857.5 412.1,856.6 412.3,855.7 412.6,854.9 412.8,854.2 413.1,853.7 413.3,853.2 413.6,852.9 413.8,852.6 414.1,852.3 414.3,852.1 414.6,851.8 414.8,851.6 415.1,851.5 415.3,851.3 415.6,851.3 415.8,851.3 416.1,851.4 416.3,851.7 416.6,852.1 416.8,852.7 417.1,853.3 417.3,854.0 417.6,854.8 417.8,855.6 418.1,856.4 418.3,857.3 418.6,858.3 418.8,859.5 419.1,860.9 419.3,862.3 419.6,863.9 419.8,865.5 420.1,867.2 420.3,868.8 420.6,870.5 420.8,872.1 421.1,873.6 421.3,874.9 421.6,876.3 421.8,877.7 422.1,879.1 422.3,880.5 422.6,881.8 422.8,883.1 423.1,884.3 423.3,885.4 423.6,886.4 423.8,887.3 424.1,888.1 424.3,888.9 424.6,889.6 424.8,890.4 425.1,891.1 425.3,891.8 425.6,892.4 425.8,893.0 426.1,893.5 426.3,894.0 426.6,894.4 426.8,894.8 427.1,895.1 427.3,895.3" fill="none" stroke="#ee7f2d" stroke-width="1.0" stroke-linejoin="round"/>
<path d="M265.30 803.90V929.00H445.10" fill="none" stroke="#1e1e1e" stroke-width="0.98"/>
<path d="M265.30 916.54h-2.5M265.30 891.62h-2.5M265.30 866.70h-2.5M265.30 841.78h-2.5M265.30 816.86h-2.5M265.30 929.00h-1.3M265.30 904.08h-1.3M265.30 879.16h-1.3M265.30 854.24h-1.3M265.30 829.32h-1.3M265.30 804.40h-1.3M285.10 929.00v2.5M324.98 929.00v2.5M364.85 929.00v2.5M404.73 929.00v2.5M444.60 929.00v2.5M305.04 929.00v1.3M344.91 929.00v1.3M384.79 929.00v1.3M424.66 929.00v1.3" fill="none" stroke="#1e1e1e" stroke-width="0.9"/>
<text x="261.30" y="921.54" text-anchor="end" font-family="'Liberation Sans',Arial,sans-serif" font-size="13.8">-20</text>
<text x="261.30" y="896.62" text-anchor="end" font-family="'Liberation Sans',Arial,sans-serif" font-size="13.8">-10</text>
<text x="261.30" y="871.70" text-anchor="end" font-family="'Liberation Sans',Arial,sans-serif" font-size="13.8">0</text>
<text x="261.30" y="846.78" text-anchor="end" font-family="'Liberation Sans',Arial,sans-serif" font-size="13.8">10</text>
<text x="261.30" y="821.86" text-anchor="end" font-family="'Liberation Sans',Arial,sans-serif" font-size="13.8">20</text>
<text x="285.10" y="943.90" text-anchor="middle" font-family="'Liberation Serif','Times New Roman',serif" font-size="13.8">0</text>
<text x="324.98" y="943.90" text-anchor="middle" font-family="'Liberation Serif','Times New Roman',serif" font-size="13.8">100</text>
<text x="364.85" y="943.90" text-anchor="middle" font-family="'Liberation Serif','Times New Roman',serif" font-size="13.8">200</text>
<text x="404.73" y="943.90" text-anchor="middle" font-family="'Liberation Serif','Times New Roman',serif" font-size="13.8">300</text>
<text x="444.60" y="943.90" text-anchor="middle" font-family="'Liberation Serif','Times New Roman',serif" font-size="13.8">400</text>
<text x="355.28" y="966.00" text-anchor="middle" font-family="'Liberation Serif','Times New Roman',serif" font-size="13.75">Number of Month</text>
<text transform="translate(237.00 866.70) rotate(-90)" text-anchor="middle" font-family="'Liberation Serif','Times New Roman',serif" font-size="13.75">IMF4</text>
<polyline points="503.5,911.5 503.8,912.2 504.0,912.9 504.3,913.5 504.5,914.1 504.8,914.8 505.0,915.3 505.3,915.9 505.5,916.4 505.8,916.9 506.0,917.3 506.3,917.7 506.5,918.1 506.8,918.4 507.0,918.7 507.3,919.0 507.5,919.2 507.8,919.5 508.0,919.8 508.3,920.0 508.5,920.2 508.8,920.4 509.0,920.5 509.3,920.6 509.5,920.6 509.8,920.6 510.0,920.5 510.3,920.4 510.5,920.2 510.8,919.9 511.0,919.6 511.3,919.3 511.5,918.9 511.8,918.5 512.0,918.1 512.3,917.7 512.5,917.3 512.8,916.8 513.0,916.2 513.3,915.5 513.5,914.7 513.8,913.8 514.0,912.8 514.3,911.8 514.5,910.6 514.8,909.4 515.0,908.1 515.3,906.8 515.5,905.5 515.8,904.1 516.0,902.8 516.3,901.4 516.5,900.0 516.8,898.5 517.0,896.9 517.3,895.2 517.5,893.4 517.8,891.6 518.0,889.7 518.3,887.8 518.5,885.8 518.8,883.8 519.0,881.8 519.3,879.8 519.5,877.8 519.8,875.8 520.0,873.8 520.3,871.7 520.5,869.5 520.8,867.3 521.0,865.0 521.3,862.6 521.5,860.3 521.8,858.0 522.0,855.7 522.3,853.4 522.5,851.2 522.8,849.1 523.0,847.1 523.3,845.2 523.5,843.4 523.8,841.7 524.0,840.0 524.3,838.3 524.5,836.7 524.8,835.0 525.0,833.5 525.3,831.9 525.5,830.5 525.8,829.1 526.0,827.8 526.3,826.5 526.5,825.4 526.8,824.3 527.0,823.4 527.3,822.5 527.5,821.7 527.8,820.9 528.0,820.1 528.3,819.4 528.5,818.7 528.8,818.0 529.0,817.4 529.3,816.9 529.5,816.5 529.8,816.1 530.0,815.8 530.3,815.6 530.5,815.3 530.8,815.1 531.0,814.9 531.3,814.7 531.5,814.5 531.8,814.4 532.0,814.3 532.3,814.2 532.5,814.2 532.8,814.2 533.0,814.3 533.3,814.4 533.5,814.7 533.8,815.0 534.0,815.3 534.3,815.7 534.5,816.2 534.8,816.6 535.0,817.2 535.3,817.7 535.5,818.2 535.8,818.8 536.0,819.6 536.3,820.6 536.5,821.6 536.8,822.8 537.0,824.1 537.3,825.4 537.5,826.8 537.8,828.3 538.0,829.8 538.3,831.3 538.5,832.8 538.8,834.2 539.0,835.6 539.3,837.0 539.5,838.5 539.8,840.0 540.0,841.5 540.3,843.1 540.5,844.7 540.8,846.3 541.0,847.9 541.3,849.5 541.5,851.1 541.8,852.6 542.0,854.1 542.3,855.5 542.5,856.8 542.8,858.1 543.0,859.3 543.3,860.4 543.5,861.6 543.8,862.7 544.0,863.8 544.3,864.9 544.5,866.0 544.8,867.0 545.0,868.0 545.3,868.9 545.5,869.8 545.8,870.6 546.0,871.4 546.3,872.2 546.5,872.9 546.8,873.6 547.0,874.2 547.3,874.9 547.5,875.6 547.8,876.2 548.0,876.8 548.3,877.4 548.5,877.9 548.8,878.4 549.0,878.9 549.3,879.3 549.5,879.6 549.8,879.9 550.0,880.2 550.3,880.4 550.5,880.7 550.8,880.9 551.0,881.1 551.3,881.3 551.5,881.5 551.8,881.7 552.0,881.8 552.3,882.0 552.5,882.1 552.8,882.3 553.0,882.4 553.3,882.4 553.5,882.5 553.8,882.5 554.0,882.6 554.3,882.5 554.5,882.5 554.8,882.4 555.0,882.3 555.3,882.1 555.5,881.9 555.8,881.7 556.0,881.4 556.3,881.2 556.5,880.9 556.8,880.6 557.0,880.3 557.3,879.9 557.5,879.6 557.8,879.3 558.0,879.0 558.3,878.6 558.5,878.3 558.8,878.0 559.0,877.6 559.3,877.2 559.5,876.7 559.8,876.3 560.0,875.8 560.3,875.3 560.5,874.8 560.8,874.2 561.0,873.7 561.3,873.1 561.5,872.6 561.8,872.0 562.0,871.5 562.3,870.9 562.5,870.3 562.8,869.8 563.0,869.2 563.3,868.7 563.5,868.2 563.8,867.6 564.0,867.0 564.3,866.5 564.5,865.9 564.8,865.3 565.1,864.7 565.3,864.1 565.6,863.5 565.8,862.9 566.1,862.3 566.3,861.7 566.6,861.2 566.8,860.6 567.1,860.1 567.3,859.5 567.6,859.0 567.8,858.5 568.1,858.0 568.3,857.5 568.6,857.0 568.8,856.5 569.1,856.0 569.3,855.5 569.6,855.1 569.8,854.6 570.1,854.1 570.3,853.7 570.6,853.2 570.8,852.8 571.1,852.5 571.3,852.1 571.6,851.8 571.8,851.5 572.1,851.3 572.3,851.1 572.6,851.0 572.8,850.8 573.1,850.6 573.3,850.5 573.6,850.3 573.8,850.2 574.1,850.0 574.3,849.9 574.6,849.8 574.8,849.7 575.1,849.7 575.3,849.6 575.6,849.6 575.8,849.6 576.1,849.6 576.3,849.6 576.6,849.7 576.8,849.8 577.1,850.0 577.3,850.1 577.6,850.3 577.8,850.5 578.1,850.7 578.3,850.9 578.6,851.2 578.8,851.4 579.1,851.7 579.3,851.9 579.6,852.2 579.8,852.5 580.1,852.9 580.3,853.3 580.6,853.7 580.8,854.2 581.1,854.7 581.3,855.3 581.6,855.8 581.8,856.4 582.1,857.0 582.3,857.5 582.6,858.1 582.8,858.6 583.1,859.2 583.3,859.7 583.6,860.1 583.8,860.6 584.1,861.0 584.3,861.4 584.6,861.9 584.8,862.3 585.1,862.8 585.3,863.2 585.6,863.6 585.8,864.1 586.1,864.5 586.3,864.9 586.6,865.3 586.8,865.7 587.1,866.0 587.3,866.4 587.6,866.7 587.8,867.0 588.1,867.2 588.3,867.5 588.6,867.7 588.8,867.8 589.1,868.0 589.3,868.2 589.6,868.4 589.8,868.6 590.1,868.7 590.3,868.9 590.6,869.1 590.8,869.2 591.1,869.4 591.3,869.5 591.6,869.6 591.8,869.7 592.1,869.8 592.3,869.9 592.6,869.9 592.8,870.0 593.1,870.0 593.3,870.0 593.6,870.0 593.8,870.0 594.1,870.0 594.3,869.9 594.6,869.9 594.8,869.8 595.1,869.7 595.3,869.6 595.6,869.5 595.8,869.4 596.1,869.3 596.3,869.2 596.6,869.0 596.8,868.9 597.1,868.7 597.3,868.6 597.6,868.5 597.8,868.3 598.1,868.2 598.3,868.0 598.6,867.8 598.8,867.6 599.1,867.4 599.3,867.2 599.6,867.0 599.8,866.7 600.1,866.4 600.3,866.1 600.6,865.8 600.8,865.5 601.1,865.2 601.3,864.9 601.6,864.5 601.8,864.2 602.1,863.8 602.3,863.5 602.6,863.1 602.8,862.8 603.1,862.4 603.3,862.1 603.6,861.7 603.8,861.4 604.1,861.0 604.3,860.7 604.6,860.4 604.8,860.0 605.1,859.6 605.3,859.3 605.6,858.9 605.8,858.5 606.1,858.2 606.3,857.8 606.6,857.4 606.8,857.0 607.1,856.6 607.3,856.2 607.6,855.8 607.8,855.4 608.1,855.1 608.3,854.7 608.6,854.3 608.8,853.9 609.1,853.6 609.3,853.2 609.6,852.8 609.8,852.5 610.1,852.1 610.3,851.8 610.6,851.5 610.8,851.1 611.1,850.8 611.3,850.5 611.6,850.1 611.8,849.8 612.1,849.5 612.3,849.1 612.6,848.8 612.8,848.5 613.1,848.2 613.3,847.9 613.6,847.6 613.8,847.3 614.1,847.0 614.3,846.7 614.6,846.4 614.8,846.1 615.1,845.8 615.3,845.6 615.6,845.3 615.8,845.1 616.1,844.9 616.3,844.7 616.6,844.4 616.8,844.2 617.1,844.0 617.3,843.8 617.6,843.6 617.8,843.4 618.1,843.2 618.3,843.0 618.6,842.8 618.8,842.6 619.1,842.4 619.3,842.2 619.6,842.1 619.8,841.9 620.1,841.7 620.3,841.6 620.6,841.4 620.8,841.3 621.1,841.2 621.3,841.0 621.6,840.9 621.8,840.8 622.1,840.7 622.3,840.6 622.6,840.5 622.8,840.4 623.1,840.3 623.3,840.3 623.6,840.2 623.8,840.1 624.1,840.0 624.3,839.9 624.6,839.9 624.8,839.8 625.1,839.7 625.3,839.7 625.6,839.6 625.8,839.6 626.1,839.5 626.3,839.5 626.6,839.5 626.8,839.4 627.1,839.4 627.3,839.5 627.6,839.5 627.8,839.5 628.1,839.5 628.3,839.5 628.6,839.6 628.8,839.6 629.1,839.7 629.3,839.7 629.6,839.8 629.8,839.8 630.1,839.9 630.3,840.0 630.6,840.0 630.8,840.1 631.1,840.2 631.4,840.3 631.6,840.3 631.9,840.4 632.1,840.5 632.4,840.6 632.6,840.6 632.9,840.7 633.1,840.8 633.4,840.9 633.6,841.1 633.9,841.2 634.1,841.3 634.4,841.4 634.6,841.6 634.9,841.7 635.1,841.8 635.4,842.0 635.6,842.1 635.9,842.3 636.1,842.4 636.4,842.6 636.6,842.7 636.9,842.9 637.1,843.1 637.4,843.2 637.6,843.4 637.9,843.5 638.1,843.7 638.4,843.8 638.6,844.0 638.9,844.1 639.1,844.3 639.4,844.4 639.6,844.5 639.9,844.7 640.1,844.8 640.4,845.0 640.6,845.1 640.9,845.3 641.1,845.4 641.4,845.6 641.6,845.7 641.9,845.9 642.1,846.0 642.4,846.2 642.6,846.3 642.9,846.5 643.1,846.6 643.4,846.8 643.6,846.9 643.9,847.1 644.1,847.2 644.4,847.4 644.6,847.6 644.9,847.7 645.1,847.9 645.4,848.0 645.6,848.2 645.9,848.4" fill="none" stroke="#ee7f2d" stroke-width="1.0" stroke-linejoin="round"/>
<path d="M483.20 803.90V929.00H662.70" fill="none" stroke="#1e1e1e" stroke-width="0.98"/>
<path d="M483.20 929.00h-2.5M483.20 915.16h-2.5M483.20 901.31h-2.5M483.20 887.47h-2.5M483.20 873.62h-2.5M483.20 859.78h-2.5M483.20 845.93h-2.5M483.20 832.09h-2.5M483.20 818.24h-2.5M483.20 804.40h-2.5M483.20 922.08h-1.3M483.20 908.23h-1.3M483.20 894.39h-1.3M483.20 880.54h-1.3M483.20 866.70h-1.3M483.20 852.86h-1.3M483.20 839.01h-1.3M483.20 825.17h-1.3M483.20 811.32h-1.3M503.40 929.00v2.5M543.10 929.00v2.5M582.80 929.00v2.5M622.50 929.00v2.5M662.20 929.00v2.5M523.25 929.00v1.3M562.95 929.00v1.3M602.65 929.00v1.3M642.35 929.00v1.3" fill="none" stroke="#1e1e1e" stroke-width="0.9"/>
<text x="479.20" y="934.00" text-anchor="end" font-family="'Liberation Sans',Arial,sans-serif" font-size="13.8">-10</text>
<text x="479.20" y="920.16" text-anchor="end" font-family="'Liberation Sans',Arial,sans-serif" font-size="13.8">-8</text>
<text x="479.20" y="906.31" text-anchor="end" font-family="'Liberation Sans',Arial,sans-serif" font-size="13.8">-6</text>
<text x="479.20" y="892.47" text-anchor="end" font-family="'Liberation Sans',Arial,sans-serif" font-size="13.8">-4</text>
<text x="479.20" y="878.62" text-anchor="end" font-family="'Liberation Sans',Arial,sans-serif" font-size="13.8">-2</text>
<text x="479.20" y="864.78" text-anchor="end" font-family="'Liberation Sans',Arial,sans-serif" font-size="13.8">0</text>
<text x="479.20" y="850.93" text-anchor="end" font-family="'Liberation Sans',Arial,sans-serif" font-size="13.8">2</text>
<text x="479.20" y="837.09" text-anchor="end" font-family="'Liberation Sans',Arial,sans-serif" font-size="13.8">4</text>
<text x="479.20" y="823.24" text-anchor="end" font-family="'Liberation Sans',Arial,sans-serif" font-size="13.8">6</text>
<text x="479.20" y="809.40" text-anchor="end" font-family="'Liberation Sans',Arial,sans-serif" font-size="13.8">8</text>
<text x="503.40" y="943.90" text-anchor="middle" font-family="'Liberation Serif','Times New Roman',serif" font-size="13.8">0</text>
<text x="543.10" y="943.90" text-anchor="middle" font-family="'Liberation Serif','Times New Roman',serif" font-size="13.8">100</text>
<text x="582.80" y="943.90" text-anchor="middle" font-family="'Liberation Serif','Times New Roman',serif" font-size="13.8">200</text>
<text x="622.50" y="943.90" text-anchor="middle" font-family="'Liberation Serif','Times New Roman',serif" font-size="13.8">300</text>
<text x="662.20" y="943.90" text-anchor="middle" font-family="'Liberation Serif','Times New Roman',serif" font-size="13.8">400</text>
<text x="573.27" y="966.00" text-anchor="middle" font-family="'Liberation Serif','Times New Roman',serif" font-size="13.75">Number of Month</text>
<text transform="translate(456.00 866.70) rotate(-90)" text-anchor="middle" font-family="'Liberation Serif','Times New Roman',serif" font-size="13.75">IMF5</text>
<polyline points="66.5,1053.3 66.8,1052.6 67.0,1051.9 67.3,1051.2 67.5,1050.5 67.8,1049.7 68.0,1049.0 68.3,1048.3 68.5,1047.6 68.8,1046.8 69.0,1046.1 69.3,1045.4 69.5,1044.6 69.8,1043.9 70.0,1043.1 70.3,1042.4 70.5,1041.6 70.8,1040.9 71.0,1040.1 71.3,1039.3 71.5,1038.6 71.8,1037.8 72.0,1037.0 72.3,1036.2 72.5,1035.4 72.8,1034.6 73.0,1033.8 73.3,1033.0 73.5,1032.2 73.8,1031.3 74.0,1030.5 74.3,1029.7 74.5,1028.8 74.8,1028.0 75.0,1027.1 75.3,1026.2 75.5,1025.4 75.8,1024.5 76.0,1023.7 76.3,1022.8 76.5,1022.0 76.8,1021.1 77.0,1020.3 77.3,1019.4 77.5,1018.6 77.8,1017.7 78.0,1016.9 78.3,1016.1 78.5,1015.2 78.8,1014.4 79.0,1013.6 79.3,1012.8 79.5,1012.0 79.8,1011.2 80.0,1010.4 80.3,1009.6 80.5,1008.8 80.8,1008.0 81.0,1007.2 81.3,1006.4 81.5,1005.6 81.8,1004.8 82.0,1003.9 82.3,1003.1 82.5,1002.3 82.8,1001.5 83.0,1000.8 83.3,1000.0 83.5,999.2 83.8,998.5 84.0,997.7 84.3,997.0 84.5,996.3 84.8,995.6 85.0,994.9 85.3,994.2 85.5,993.5 85.8,992.9 86.0,992.3 86.3,991.7 86.5,991.1 86.8,990.5 87.0,990.0 87.3,989.4 87.5,988.8 87.8,988.3 88.0,987.7 88.3,987.2 88.5,986.7 88.8,986.2 89.0,985.6 89.3,985.1 89.5,984.6 89.8,984.1 90.0,983.6 90.3,983.2 90.5,982.7 90.8,982.3 91.0,981.8 91.3,981.4 91.5,981.0 91.8,980.6 92.0,980.2 92.3,979.8 92.5,979.4 92.8,979.1 93.0,978.7 93.3,978.4 93.5,978.1 93.8,977.8 94.0,977.5 94.3,977.3 94.5,977.0 94.8,976.7 95.0,976.5 95.3,976.2 95.5,976.0 95.8,975.7 96.0,975.5 96.3,975.3 96.5,975.1 96.8,974.9 97.0,974.7 97.3,974.5 97.5,974.3 97.8,974.2 98.0,974.0 98.3,973.9 98.5,973.8 98.8,973.7 99.0,973.6 99.3,973.5 99.5,973.4 99.8,973.2 100.0,973.1 100.3,973.0 100.5,973.0 100.8,972.9 101.0,972.8 101.3,972.7 101.5,972.6 101.8,972.6 102.0,972.5 102.3,972.4 102.5,972.4 102.8,972.4 103.0,972.4 103.3,972.3 103.5,972.3 103.8,972.4 104.0,972.4 104.3,972.4 104.5,972.5 104.8,972.5 105.0,972.6 105.3,972.6 105.5,972.7 105.8,972.8 106.0,972.9 106.3,973.0 106.5,973.1 106.8,973.2 107.0,973.3 107.3,973.4 107.5,973.5 107.8,973.6 108.0,973.7 108.3,973.8 108.5,974.0 108.8,974.1 109.0,974.3 109.3,974.5 109.5,974.7 109.8,975.0 110.0,975.2 110.3,975.5 110.5,975.8 110.8,976.1 111.0,976.4 111.3,976.7 111.5,977.0 111.8,977.4 112.0,977.7 112.3,978.1 112.5,978.4 112.8,978.8 113.0,979.1 113.3,979.5 113.5,979.9 113.8,980.4 114.0,980.8 114.3,981.3 114.5,981.8 114.8,982.3 115.0,982.8 115.3,983.3 115.5,983.9 115.8,984.4 116.0,985.0 116.3,985.6 116.5,986.2 116.8,986.9 117.0,987.5 117.3,988.1 117.5,988.8 117.8,989.4 118.0,990.1 118.3,990.7 118.5,991.4 118.8,992.1 119.0,992.8 119.3,993.4 119.5,994.1 119.8,994.8 120.0,995.5 120.3,996.1 120.5,996.8 120.8,997.5 121.0,998.2 121.3,999.0 121.5,999.7 121.8,1000.5 122.0,1001.2 122.3,1002.0 122.5,1002.8 122.8,1003.6 123.0,1004.4 123.3,1005.2 123.5,1006.0 123.8,1006.8 124.0,1007.6 124.3,1008.5 124.5,1009.3 124.8,1010.1 125.0,1011.0 125.3,1011.8 125.5,1012.6 125.8,1013.5 126.0,1014.3 126.3,1015.1 126.5,1015.9 126.8,1016.7 127.0,1017.5 127.3,1018.3 127.5,1019.1 127.8,1019.9 128.0,1020.7 128.3,1021.6 128.5,1022.4 128.8,1023.2 129.0,1024.1 129.3,1024.9 129.5,1025.7 129.8,1026.6 130.0,1027.4 130.3,1028.3 130.5,1029.1 130.8,1029.9 131.0,1030.8 131.3,1031.6 131.5,1032.4 131.8,1033.2 132.0,1034.0 132.3,1034.8 132.5,1035.6 132.8,1036.4 133.0,1037.1 133.3,1037.9 133.5,1038.6 133.8,1039.3 134.0,1040.0 134.3,1040.7 134.5,1041.4 134.8,1042.0 135.0,1042.7 135.3,1043.3 135.5,1043.9 135.8,1044.6 136.0,1045.2 136.3,1045.8 136.5,1046.4 136.8,1047.0 137.0,1047.6 137.3,1048.2 137.5,1048.8 137.8,1049.4 138.0,1050.0 138.3,1050.5 138.5,1051.1 138.8,1051.6 139.0,1052.1 139.3,1052.7 139.5,1053.2 139.8,1053.7 140.0,1054.2 140.3,1054.6 140.6,1055.1 140.8,1055.6 141.1,1056.0 141.3,1056.4 141.6,1056.8 141.8,1057.2 142.1,1057.6 142.3,1058.0 142.6,1058.4 142.8,1058.7 143.1,1059.1 143.3,1059.5 143.6,1059.8 143.8,1060.2 144.1,1060.5 144.3,1060.9 144.6,1061.2 144.8,1061.6 145.1,1061.9 145.3,1062.2 145.6,1062.5 145.8,1062.8 146.1,1063.0 146.3,1063.3 146.6,1063.5 146.8,1063.8 147.1,1064.0 147.3,1064.2 147.6,1064.4 147.8,1064.5 148.1,1064.7 148.3,1064.8 148.6,1065.0 148.8,1065.1 149.1,1065.3 149.3,1065.4 149.6,1065.6 149.8,1065.7 150.1,1065.8 150.3,1066.0 150.6,1066.1 150.8,1066.2 151.1,1066.3 151.3,1066.4 151.6,1066.5 151.8,1066.6 152.1,1066.7 152.3,1066.8 152.6,1066.8 152.8,1066.9 153.1,1066.9 153.3,1067.0 153.6,1067.0 153.8,1067.0 154.1,1067.0 154.3,1067.0 154.6,1067.0 154.8,1066.9 155.1,1066.9 155.3,1066.8 155.6,1066.8 155.8,1066.7 156.1,1066.6 156.3,1066.5 156.6,1066.4 156.8,1066.3 157.1,1066.2 157.3,1066.1 157.6,1066.0 157.8,1065.8 158.1,1065.7 158.3,1065.6 158.6,1065.4 158.8,1065.3 159.1,1065.1 159.3,1065.0 159.6,1064.8 159.8,1064.7 160.1,1064.5 160.3,1064.4 160.6,1064.2 160.8,1064.0 161.1,1063.8 161.3,1063.5 161.6,1063.3 161.8,1063.0 162.1,1062.8 162.3,1062.5 162.6,1062.2 162.8,1061.9 163.1,1061.6 163.3,1061.2 163.6,1060.9 163.8,1060.6 164.1,1060.2 164.3,1059.9 164.6,1059.5 164.8,1059.1 165.1,1058.8 165.3,1058.4 165.6,1058.0 165.8,1057.6 166.1,1057.2 166.3,1056.9 166.6,1056.4 166.8,1056.0 167.1,1055.6 167.3,1055.1 167.6,1054.6 167.8,1054.1 168.1,1053.6 168.3,1053.1 168.6,1052.6 168.8,1052.1 169.1,1051.5 169.3,1051.0 169.6,1050.4 169.8,1049.8 170.1,1049.2 170.3,1048.7 170.6,1048.1 170.8,1047.5 171.1,1046.9 171.3,1046.3 171.6,1045.7 171.8,1045.1 172.1,1044.5 172.3,1043.9 172.6,1043.3 172.8,1042.7 173.1,1042.1 173.3,1041.5 173.6,1040.8 173.8,1040.2 174.1,1039.6 174.3,1039.0 174.6,1038.3 174.8,1037.7 175.1,1037.0 175.3,1036.4 175.6,1035.7 175.8,1035.0 176.1,1034.4 176.3,1033.7 176.6,1033.0 176.8,1032.3 177.1,1031.6 177.3,1031.0 177.6,1030.3 177.8,1029.6 178.1,1028.9 178.3,1028.2 178.6,1027.5 178.8,1026.8 179.1,1026.1 179.3,1025.5 179.6,1024.8 179.8,1024.1 180.1,1023.4 180.3,1022.7 180.6,1022.1 180.8,1021.4 181.1,1020.7 181.3,1020.1 181.6,1019.4 181.8,1018.7 182.1,1018.0 182.3,1017.3 182.6,1016.6 182.8,1015.9 183.1,1015.2 183.3,1014.6 183.6,1013.9 183.8,1013.2 184.1,1012.5 184.3,1011.8 184.6,1011.1 184.8,1010.5 185.1,1009.8 185.3,1009.1 185.6,1008.4 185.8,1007.8 186.1,1007.1 186.3,1006.5 186.6,1005.9 186.8,1005.2 187.1,1004.6 187.3,1004.0 187.6,1003.4 187.8,1002.8 188.1,1002.2 188.3,1001.6 188.6,1001.0 188.8,1000.4 189.1,999.8 189.3,999.2 189.6,998.6 189.8,998.1 190.1,997.5 190.3,996.9 190.6,996.3 190.8,995.8 191.1,995.2 191.3,994.7 191.6,994.1 191.8,993.6 192.1,993.0 192.3,992.5 192.6,992.0 192.8,991.5 193.1,991.0 193.3,990.5 193.6,990.0 193.8,989.5 194.1,989.0 194.3,988.5 194.6,988.1 194.8,987.6 195.1,987.2 195.3,986.7 195.6,986.3 195.8,985.9 196.1,985.4 196.3,985.0 196.6,984.6 196.8,984.2 197.1,983.8 197.3,983.4 197.6,983.0 197.8,982.6 198.1,982.2 198.3,981.8 198.6,981.4 198.8,981.0 199.1,980.6 199.3,980.3 199.6,979.9 199.8,979.6 200.1,979.2 200.3,978.9 200.6,978.5 200.8,978.2 201.1,977.9 201.3,977.6 201.6,977.3 201.8,977.0 202.1,976.7 202.3,976.4 202.6,976.2 202.8,975.9 203.1,975.6 203.3,975.3 203.6,975.1 203.8,974.8 204.1,974.6 204.3,974.3 204.6,974.0 204.8,973.8 205.1,973.6 205.3,973.3 205.6,973.1 205.8,972.9 206.1,972.6 206.3,972.4 206.6,972.2 206.8,972.0 207.1,971.8 207.3,971.6 207.6,971.4 207.8,971.2 208.1,971.0 208.3,970.8 208.6,970.7 208.8,970.5 209.1,970.3 209.3,970.2" fill="none" stroke="#ee7f2d" stroke-width="1.0" stroke-linejoin="round"/>
<path d="M46.30 956.10V1081.50H226.20" fill="none" stroke="#1e1e1e" stroke-width="0.98"/>
<path d="M46.30 1081.50h-2.5M46.30 1039.87h-2.5M46.30 998.23h-2.5M46.30 956.60h-2.5M46.30 1060.68h-1.3M46.30 1019.05h-1.3M46.30 977.42h-1.3M66.50 1081.50v2.5M106.30 1081.50v2.5M146.10 1081.50v2.5M185.90 1081.50v2.5M225.70 1081.50v2.5M86.40 1081.50v1.3M126.20 1081.50v1.3M166.00 1081.50v1.3M205.80 1081.50v1.3" fill="none" stroke="#1e1e1e" stroke-width="0.9"/>
<text x="42.30" y="1086.50" text-anchor="end" font-family="'Liberation Sans',Arial,sans-serif" font-size="13.8">74</text>
<text x="42.30" y="1044.87" text-anchor="end" font-family="'Liberation Sans',Arial,sans-serif" font-size="13.8">76</text>
<text x="42.30" y="1003.23" text-anchor="end" font-family="'Liberation Sans',Arial,sans-serif" font-size="13.8">78</text>
<text x="42.30" y="961.60" text-anchor="end" font-family="'Liberation Sans',Arial,sans-serif" font-size="13.8">80</text>
<text x="66.50" y="1096.40" text-anchor="middle" font-family="'Liberation Serif','Times New Roman',serif" font-size="13.8">0</text>
<text x="106.30" y="1096.40" text-anchor="middle" font-family="'Liberation Serif','Times New Roman',serif" font-size="13.8">100</text>
<text x="146.10" y="1096.40" text-anchor="middle" font-family="'Liberation Serif','Times New Roman',serif" font-size="13.8">200</text>
<text x="185.90" y="1096.40" text-anchor="middle" font-family="'Liberation Serif','Times New Roman',serif" font-size="13.8">300</text>
<text x="225.70" y="1096.40" text-anchor="middle" font-family="'Liberation Serif','Times New Roman',serif" font-size="13.8">400</text>
<text x="136.55" y="1118.50" text-anchor="middle" font-family="'Liberation Serif','Times New Roman',serif" font-size="13.75">Number of Month</text>
<text transform="translate(24.00 1019.05) rotate(-90)" text-anchor="middle" font-family="'Liberation Serif','Times New Roman',serif" font-size="13.75">IMF6</text>
<text x="347.4" y="546.8" text-anchor="middle" font-family="'Liberation Serif','Times New Roman',serif" font-size="24.85">Number of sunny hours</text>
<text x="347.4" y="1154.1" text-anchor="middle" font-family="'Liberation Serif','Times New Roman',serif" font-size="24.4">Rainfall</text>
</svg>
</body></html>
